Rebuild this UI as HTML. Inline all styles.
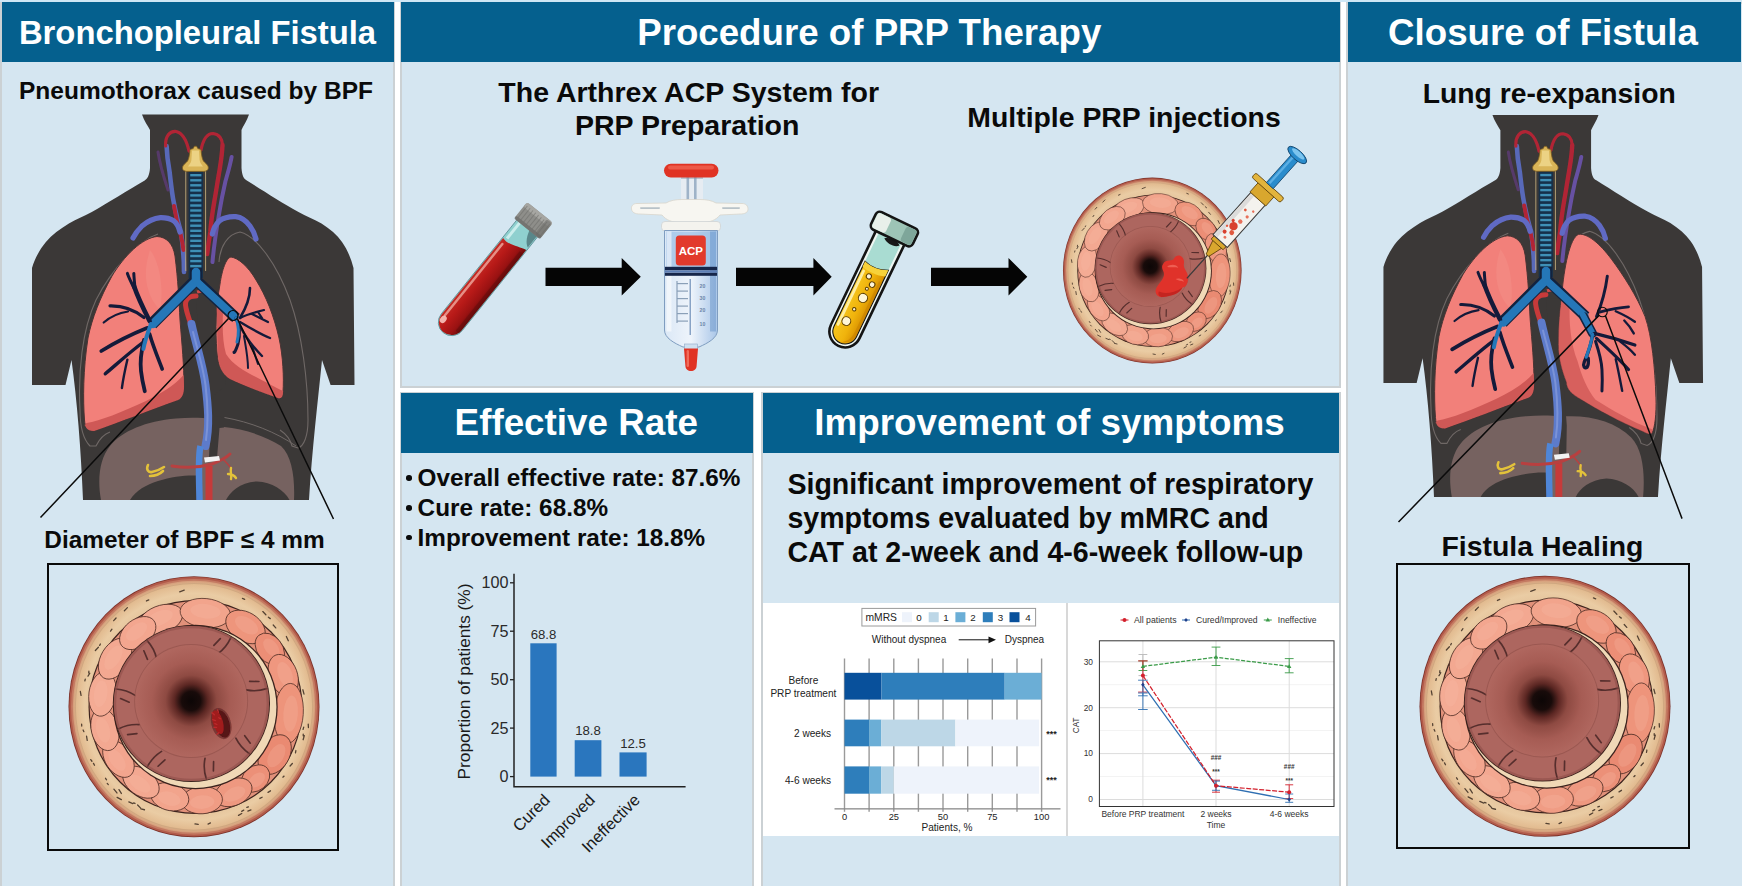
<!DOCTYPE html><html><head><meta charset="utf-8"><title>PRP therapy for bronchopleural fistula</title><style>
html,body{margin:0;padding:0;}
body{width:1742px;height:886px;background:#fff;position:relative;overflow:hidden;font-family:"Liberation Sans",sans-serif;}
.panel{position:absolute;background:#d5e6f1;box-sizing:border-box;border:2px solid #cbd1d4;}
.hdr{position:absolute;background:#05608e;color:#fff;font-weight:bold;text-align:center;white-space:nowrap;}
.t{position:absolute;font-weight:bold;color:#0a0a0a;white-space:nowrap;line-height:1;}
.c{text-align:center;}
svg{position:absolute;left:0;top:0;overflow:visible;}
</style></head><body>
<div style="position:absolute;left:0;top:0;width:1742px;height:2px;background:#cfe7f5;"></div>
<div class="panel" style="left:0px;top:2px;width:395px;height:886px;"></div>
<div class="panel" style="left:400px;top:2px;width:941px;height:386px;"></div>
<div class="panel" style="left:400px;top:392px;width:354px;height:496px;"></div>
<div class="panel" style="left:761px;top:392px;width:580px;height:496px;"></div>
<div class="panel" style="left:1346px;top:2px;width:398px;height:886px;"></div>
<div style="position:absolute;left:763px;top:603px;width:576px;height:232.5px;background:#fff;"></div>
<div style="position:absolute;left:1066px;top:603px;width:1.5px;height:232.5px;background:#d8d8d8;"></div>
<div class="hdr" style="left:2px;top:2px;width:392px;height:59.5px;"><span style="position:absolute;left:0;width:392px;top:14.7px;font-size:32.8px;line-height:1;transform:translateX(-0.5px)">Bronchopleural Fistula</span></div>
<div class="hdr" style="left:401px;top:2px;width:938.5px;height:59.5px;"><span style="position:absolute;left:0;width:938.5px;top:12.9px;font-size:36.7px;line-height:1;transform:translateX(-1.0px)">Procedure of PRP Therapy</span></div>
<div class="hdr" style="left:1347.5px;top:2px;width:393.2px;height:59.5px;"><span style="position:absolute;left:0;width:393.2px;top:13.2px;font-size:36.7px;line-height:1;transform:translateX(-1.1px)">Closure of Fistula</span></div>
<div class="hdr" style="left:401px;top:392.6px;width:351.6px;height:60.3px;"><span style="position:absolute;left:0;width:351.6px;top:12.4px;font-size:36.8px;line-height:1;transform:translateX(-0.5px)">Effective Rate</span></div>
<div class="hdr" style="left:762.7px;top:392.6px;width:576.8px;height:60.3px;"><span style="position:absolute;left:0;width:576.8px;top:12.5px;font-size:36.8px;line-height:1;transform:translateX(-1.6px)">Improvement of symptoms</span></div>
<div class="t c" style="left:-204.0px;width:800px;top:79.3px;font-size:24.5px;">Pneumothorax caused by BPF</div>
<div class="t c" style="left:-215.5px;width:800px;top:528.3px;font-size:24.4px;">Diameter of BPF ≤ 4 mm</div>
<div class="t c" style="left:288.7px;width:800px;top:77.5px;font-size:28.5px;">The Arthrex ACP System for</div>
<div class="t c" style="left:287.2px;width:800px;top:111.3px;font-size:28.5px;">PRP Preparation</div>
<div class="t c" style="left:724.0px;width:800px;top:103.3px;font-size:28.4px;">Multiple PRP injections</div>
<div class="t c" style="left:1149.2px;width:800px;top:79.0px;font-size:28.3px;">Lung re-expansion</div>
<div class="t c" style="left:1142.5px;width:800px;top:532.0px;font-size:28.4px;">Fistula Healing</div>
<div class="t" style="left:417.6px;top:466.2px;font-size:24.3px;">Overall effective rate: 87.6%</div>
<div style="position:absolute;left:406.2px;top:475.3px;width:5.6px;height:5.6px;border-radius:50%;background:#0a0a0a;"></div>
<div class="t" style="left:417.6px;top:495.9px;font-size:24.3px;">Cure rate: 68.8%</div>
<div style="position:absolute;left:406.2px;top:505.0px;width:5.6px;height:5.6px;border-radius:50%;background:#0a0a0a;"></div>
<div class="t" style="left:417.6px;top:525.6px;font-size:24.3px;">Improvement rate: 18.8%</div>
<div style="position:absolute;left:406.2px;top:534.7px;width:5.6px;height:5.6px;border-radius:50%;background:#0a0a0a;"></div>
<div class="t" style="left:787.4px;top:470.1px;font-size:28.6px;">Significant improvement of respiratory</div>
<div class="t" style="left:787.4px;top:504.2px;font-size:28.6px;">symptoms evaluated by mMRC and</div>
<div class="t" style="left:787.4px;top:538.3px;font-size:28.6px;">CAT at 2-week and 4-6-week follow-up</div>
<div style="position:absolute;left:46.5px;top:562.5px;width:292.5px;height:288.5px;box-sizing:border-box;border:2.2px solid #0a0a0a;"></div>
<div style="position:absolute;left:1395.5px;top:562.5px;width:294px;height:286px;box-sizing:border-box;border:2.2px solid #0a0a0a;"></div>
<svg width="1742" height="886" viewBox="0 0 1742 886">
<defs><filter id="fSoft" x="-20%" y="-20%" width="140%" height="140%"><feGaussianBlur stdDeviation="0.7"/></filter>
<radialGradient id="gBeige" cx="50%" cy="50%" r="50%"><stop offset="0.80" stop-color="#e3c199"/><stop offset="0.9" stop-color="#eaccA4"/><stop offset="0.97" stop-color="#e2bb90"/><stop offset="1" stop-color="#d39a78"/></radialGradient>
<radialGradient id="gLumen" cx="50%" cy="50%" r="50%"><stop offset="0" stop-color="#0c0606"/><stop offset="0.17" stop-color="#180b0a"/><stop offset="0.30" stop-color="#5c2723"/><stop offset="0.46" stop-color="#8e4a42"/><stop offset="0.70" stop-color="#a65c54"/><stop offset="1" stop-color="#b0675f"/></radialGradient>

<linearGradient id="gBlood" x1="0" x2="1" y1="0" y2="0"><stop offset="0" stop-color="#c42a24"/><stop offset=".35" stop-color="#b81a18"/><stop offset=".75" stop-color="#9a1212"/><stop offset="1" stop-color="#6e0c0c"/></linearGradient>
<linearGradient id="gBarrel" x1="0" x2="1" y1="0" y2="0"><stop offset="0" stop-color="#dbe8f6"/><stop offset=".5" stop-color="#eef4fb"/><stop offset="1" stop-color="#a9c6e8"/></linearGradient>
<linearGradient id="gYellow" x1="0" x2="1" y1="0" y2="0"><stop offset="0" stop-color="#f6c61e"/><stop offset=".55" stop-color="#f0b30c"/><stop offset="1" stop-color="#d78f00"/></linearGradient>
</defs>
<g id="torsoL"><path fill="#3b3837" d="M142,114.5 L249,114.5 C247,121 243,126 241.5,130 L241.5,168 C242,176 244,179 246.8,180.5 C262,190 282,203 298.5,212 C306,216 314,219.5 321.5,223.6 C330,229 337,235 342,242 C347,249 351,258 353.5,268 L354.5,385 L330.6,385 L322,360 C318,400 312,450 309,500 L83,500 C81,450 77,400 71.5,360 L65.5,385 L32,385 L32,268 C35,258 40,249 45.9,242 C52,235 60,229 68.9,223.6 C76,219.5 84,216 91.8,212 C108,203 128,190 144.7,180.5 C147,179 149.5,176 150,168 L150,130 C148,126 144,121 142,114.5 Z"/>
<path fill="none" stroke="#6f6866" stroke-width="1.1" d="M158,234 C140,240 112,268 96,300 C82,330 78,372 80,410 C80,428 84,440 90,446 L96,446 C100,438 104,434 110,432"/>
<path fill="none" stroke="#6f6866" stroke-width="1.1" d="M219,262 C220,246 228,234 240,232 C256,236 276,262 290,300 C302,334 308,380 308,420 C308,436 304,446 298,448 L292,446 C290,438 286,434 280,430"/>
<path fill="#766260" d="M101,500 C97,478 100,458 110,446 C122,431 146,421 176,418.5 C190,417.3 202,417.6 212,419 L224,427 C244,429 266,436 281,446 C292,456 295,478 294,500 Z"/>
<path fill="#3b3837" d="M130,500 C136,490 146,485 158,481 C172,476.5 186,475 197,475.5 L197,500 Z"/>
<path fill="#3b3837" d="M226,500 C230,492 240,482.5 257,481.5 C272,482 284,490 289.5,500 Z"/>
<path fill="#3b3837" d="M196,300 L224,300 L226,384 C223,390 214,392 213.5,398 L213.5,416 L224,417.5 L224,427.5 L219.5,428 L217,458 L209,458 L210,430 C209,410 200,360 196,300 Z"/>
<path fill="none" stroke="#6f6866" stroke-width="1" d="M224.5,417.5 C250,422 276,432 296,446"/>
<path fill="#f2807a" stroke="#4a3434" stroke-width="1" d="M157,236.5 C166,237 173,243 175,256 C178,280 179,300 180,320 C182,345 184,365 184,386 C184,394 182,398 178,400 C150,410 120,422 94,431 C88,431 85,428 84.5,420 C83,400 83,370 88,338 C92,318 100,298 112,276 C124,256 142,238 157,236.5 Z"/>
<path fill="#cf5856" d="M84.8,426 C85,425 85.6,424 86.5,423 C100,421 122,412 146,401 C160,394 174,386 183.6,375 L184,386 C184,394 182,398 178,400 C150,410 120,422 94,431 C88,431 85.5,428 84.8,424 Z"/>
<path fill="#f6a29b" opacity=".22" d="M150,250 C160,262 164,290 160,310 C150,300 140,280 150,250 Z"/>
<path fill="#f2807a" stroke="#4a3434" stroke-width="1" d="M231,257 C238,258 248,266 256,280 C266,296 274,316 279,338 C283,356 284,378 283,392 C283,397 281,399 278,398 C262,392 244,386 230,379 C222,374 218,366 217,352 C215,330 216,306 220,284 C222,270 226,258 231,257 Z"/>
<path fill="#cf5856" d="M216.6,300 C220,296 222,296 224,300 C222,320 222,340 226,354 C232,364 244,371 256,377 C266,382 276,388 283.2,391 L283,392 C283,397 281,399 278,398 C262,392 244,386 230,379 C222,374 218,366 217.5,350 Z"/>
<path fill="none" stroke="#c83a3a" stroke-width="5" stroke-linecap="round" d="M196,296 C188,296 184,300 186,308 C188,318 192,326 194,334"/>
<path fill="none" stroke="#5d7bcb" stroke-width="8" stroke-linecap="round" d="M191.5,324 C196,345 203,365 205.5,385 C208,405 210,426 205.5,446"/><path fill="none" stroke="#8fa4e0" stroke-width="2" stroke-linecap="round" opacity=".6" d="M193,332 C197,348 203,366 205.5,385 C207.5,402 209,420 206,440"/>
<path fill="none" stroke="#d04848" stroke-width="3" d="M197,292 C204,290 210,292 214,296"/>
<path fill="none" stroke="#4f86d8" stroke-width="6.5" d="M200.5,446 C198,456 199,470 199.5,500"/>
<path fill="none" stroke="#c63a3a" stroke-width="7" d="M209,466 L209,500"/>
<path fill="none" stroke="#b84040" stroke-width="3" stroke-linecap="round" d="M172,466 C184,468 198,468 212,464 C220,461 226,458 230,454"/>
<path fill="none" stroke="#b84040" stroke-width="1.6" d="M222,458 C226,462 230,466 232,470"/>
<path fill="#f2f2f2" d="M204,457.5 L219,456 L220,460.5 L205,462.5 Z"/>
<path fill="none" stroke="#e3c23a" stroke-width="2.6" stroke-linecap="round" d="M148,465 C146,469 148,473 152,472 C157,471 161,469 164,467 M150,476 C155,476 160,474 163,471"/>
<path fill="none" stroke="#e3c23a" stroke-width="2.4" stroke-linecap="round" d="M231,468 C230,472 232,476 231,479 M228,474 C231,474 234,475 236,478"/>
<g filter="url(#fSoft)" opacity=".88">
<path fill="none" stroke="#5d6fcb" stroke-width="4.6" stroke-linecap="round" d="M166.6,146 C167,158 168.5,166 169.6,172 C171,184 172,194 173.7,202 C176,214 178.5,224 181,232 C183,246 184,260 184,272"/>
<path fill="none" stroke="#6a3a8a" stroke-width="3" stroke-linecap="round" opacity=".7" d="M158,152 C160,166 164,178 168,190"/>
<path fill="none" stroke="#c22434" stroke-width="3.2" stroke-linecap="round" d="M165.6,146 C165,136 170,131 176,131.5 C183,133 187,142 189,151"/>
<path fill="none" stroke="#c22434" stroke-width="4" stroke-linecap="round" d="M174,206 C175.5,216 178,226 180.5,234 C182,240 183,246 183.5,250"/>
<path fill="none" stroke="#c22434" stroke-width="3.2" stroke-linecap="round" d="M201,150 C203,140 207,133.5 213,133.5 C219,134 222.5,139 222.5,145"/>
<path fill="none" stroke="#c22434" stroke-width="4.4" stroke-linecap="round" d="M222.5,145 C222,156 220.5,164 219.4,171 C217.5,182 216,192 214.3,201.5 C212.5,212 211,222 210.3,232 C209,240 208,247 207.2,254"/>
<path fill="none" stroke="#7458c0" stroke-width="4" stroke-linecap="round" opacity=".9" d="M231.6,157 C230,166 227.5,174 225.5,181 C223,192 221,202 219.4,212 C217,226 214,244 212.5,262"/>
<path fill="none" stroke="#6672d8" stroke-width="5.2" stroke-linecap="round" d="M133,238 C136,232 139,229 142,226 C148,221 154,218.4 160.5,217.7 C166,217.6 170,218.6 173.7,220.8 C177,223.5 179,228 180,232"/>
<path fill="none" stroke="#6672d8" stroke-width="5.2" stroke-linecap="round" d="M212.3,234 C213.5,228 216,224 219.4,220.8 C224,217.6 230,216.4 235.7,216.7 C241,217.4 246,220.6 250,226 C253,230 255,235 256,239"/>
</g>
<rect x="188.6" y="170" width="14.4" height="108" fill="#16304a"/>
<rect x="190.2" y="174.0" width="11.2" height="2.4" fill="#3f90b6"/><rect x="190.2" y="179.1" width="11.2" height="2.4" fill="#3f90b6"/><rect x="190.2" y="184.1" width="11.2" height="2.4" fill="#3f90b6"/><rect x="190.2" y="189.2" width="11.2" height="2.4" fill="#3f90b6"/><rect x="190.2" y="194.2" width="11.2" height="2.4" fill="#3f90b6"/><rect x="190.2" y="199.2" width="11.2" height="2.4" fill="#3f90b6"/><rect x="190.2" y="204.3" width="11.2" height="2.4" fill="#3f90b6"/><rect x="190.2" y="209.3" width="11.2" height="2.4" fill="#3f90b6"/><rect x="190.2" y="214.4" width="11.2" height="2.4" fill="#3f90b6"/><rect x="190.2" y="219.4" width="11.2" height="2.4" fill="#3f90b6"/><rect x="190.2" y="224.5" width="11.2" height="2.4" fill="#3f90b6"/><rect x="190.2" y="229.6" width="11.2" height="2.4" fill="#3f90b6"/><rect x="190.2" y="234.6" width="11.2" height="2.4" fill="#3f90b6"/><rect x="190.2" y="239.6" width="11.2" height="2.4" fill="#3f90b6"/><rect x="190.2" y="244.7" width="11.2" height="2.4" fill="#3f90b6"/><rect x="190.2" y="249.8" width="11.2" height="2.4" fill="#3f90b6"/><rect x="190.2" y="254.8" width="11.2" height="2.4" fill="#3f90b6"/><rect x="190.2" y="259.9" width="11.2" height="2.4" fill="#3f90b6"/><rect x="190.2" y="264.9" width="11.2" height="2.4" fill="#3f90b6"/><rect x="190.2" y="269.9" width="11.2" height="2.4" fill="#3f90b6"/>
<rect x="185.2" y="171" width="1.1" height="100" fill="#cdb680" opacity=".75"/><rect x="205" y="171" width="1.1" height="100" fill="#cdb680" opacity=".75"/>
<path fill="none" stroke="#13233f" stroke-width="12" stroke-linejoin="round" d="M196,268 L196,280 L152,324"/>
<path fill="none" stroke="#13233f" stroke-width="11" stroke-linejoin="round" d="M196,268 L196,280 L236,318"/>
<path fill="none" stroke="#2577b8" stroke-width="8.5" stroke-linejoin="round" stroke-linecap="round" d="M196,272 L196,281 L153,324"/>
<path fill="none" stroke="#2577b8" stroke-width="7.5" stroke-linejoin="round" stroke-linecap="round" d="M196,272 L196,281 L235,317"/>
<g fill="none" stroke="#141a3a" stroke-linecap="round"><path stroke-width="4.6" d="M149.6,321 C144,310 138,298 134,286"/><path stroke-width="3" d="M134,288 C131,282 129,278 127.4,273.4 M135,288 C134.4,282 134,278 133.8,273.4"/><path stroke-width="3.2" d="M144,317.5 C136,311 124,305.5 110,305.8"/><path stroke-width="2.2" d="M128,311.5 C118,313 110,317 103.7,322.5"/><path stroke-width="3.8" d="M147,328 C132,334 116,342 101.3,351"/><path stroke-width="3.4" d="M143.5,342 C130,352 118,363 105.3,373.8"/><path stroke-width="2.4" d="M127.4,359.6 C125,370 123,380 121.9,388"/><path stroke-width="3.8" d="M144,340 C141,352 140,362 141,371 C142,380 143.5,386 144.8,391.2"/><path stroke-width="3.6" d="M149.6,334 C153,346 158,358 162.2,369"/></g>
<path fill="none" stroke="#2577b8" stroke-width="4" stroke-linecap="round" d="M151,324 C148,332 145,340 143.4,349"/>
<g fill="none" stroke="#141a3a" stroke-linecap="round"><path stroke-width="3" d="M236,318 C240,326 240,336 238,344 C236,350 234,354 234,352"/><path stroke-width="2.6" d="M240,318 C246,308 250,298 250,288"/><path stroke-width="2.2" d="M240,318 C248,314 256,312 264,310 M258,312 L262,318 M252,314 L268,322"/><path stroke-width="2.4" d="M240,322 C250,328 260,334 270,338"/><path stroke-width="2.4" d="M240,326 C246,338 254,348 262,356"/><path stroke-width="2" d="M244,336 C246,348 248,358 248,368 M252,346 L258,364"/></g>
<path fill="none" stroke="#2577b8" stroke-width="3" stroke-linecap="round" d="M236,318 C239,326 239,334 237,342"/>
<ellipse cx="233" cy="315.5" rx="5" ry="5" fill="none" stroke="#0b0b0b" stroke-width="1.2"/>
<path fill="none" stroke="#0b0b0b" stroke-width="1.5" d="M228.5,318.5 L40.5,517.5 M237.5,319 L333.5,519"/>
<path fill="#d9b457" stroke="#7a5a1e" stroke-width=".8" d="M193.2,148.5 L194.4,146.2 L196.6,146.2 L197.8,148.5 L201,149.5 C201.4,154 201.8,158 203.4,161 C205.4,163.4 208.6,165 208.4,168 C208.2,170.2 206.4,171.2 204,171.4 L186.6,171.4 C184.2,171.2 182.6,170.2 182.4,168 C182.4,165 185.6,163.4 187.6,161 C189.2,158 189.6,154 190,149.5 Z"/>
<path fill="#efd78c" d="M192,150.5 L199,150.5 L199.6,160 C199.8,163 202,165 203,166.4 L188,166.4 C189,165 191.2,163 191.4,160 Z" opacity=".85"/></g>
<g id="torsoR" transform="translate(1351.74,1.43) scale(0.991)"><path fill="#3b3837" d="M142,114.5 L249,114.5 C247,121 243,126 241.5,130 L241.5,168 C242,176 244,179 246.8,180.5 C262,190 282,203 298.5,212 C306,216 314,219.5 321.5,223.6 C330,229 337,235 342,242 C347,249 351,258 353.5,268 L354.5,385 L330.6,385 L322,360 C318,400 312,450 309,500 L83,500 C81,450 77,400 71.5,360 L65.5,385 L32,385 L32,268 C35,258 40,249 45.9,242 C52,235 60,229 68.9,223.6 C76,219.5 84,216 91.8,212 C108,203 128,190 144.7,180.5 C147,179 149.5,176 150,168 L150,130 C148,126 144,121 142,114.5 Z"/>
<path fill="none" stroke="#6f6866" stroke-width="1.1" d="M158,234 C140,240 112,268 96,300 C82,330 78,372 80,410 C80,428 84,440 90,446 L96,446 C100,438 104,434 110,432"/>
<path fill="none" stroke="#6f6866" stroke-width="1.1" d="M219,262 C220,246 228,234 240,232 C256,236 276,262 290,300 C302,334 308,380 308,420 C308,436 304,446 298,448 L292,446 C290,438 286,434 280,430"/>
<path fill="#766260" d="M101,500 C97,478 100,458 110,446 C122,431 146,421 176,418.5 C190,417.3 202,417.6 212,419 C240,417 266,424 282,440 C294,452 296,478 294,500 Z"/>
<path fill="#3b3837" d="M130,500 C136,490 146,485 158,481 C172,476.5 186,475 197,475.5 L197,500 Z"/>
<path fill="#3b3837" d="M226,500 C230,492 240,482.5 257,481.5 C272,482 284,490 289.5,500 Z"/>
<path fill="#3b3837" d="M196,300 L216,300 L214,384 C214,400 216,410 217,428 L216.5,458 L209,458 L210,430 C209,410 200,360 196,300 Z"/>
<path fill="#f2807a" stroke="#4a3434" stroke-width="1" d="M157,236.5 C166,237 173,243 175,256 C178,280 179,300 180,320 C182,345 184,365 184,386 C184,394 182,398 178,400 C150,410 120,422 94,431 C88,431 85,428 84.5,420 C83,400 83,370 88,338 C92,318 100,298 112,276 C124,256 142,238 157,236.5 Z"/>
<path fill="#cf5856" d="M84.8,426 C85,425 85.6,424 86.5,423 C100,421 122,412 146,401 C160,394 174,386 183.6,375 L184,386 C184,394 182,398 178,400 C150,410 120,422 94,431 C88,431 85.5,428 84.8,424 Z"/>
<path fill="#f6a29b" opacity=".22" d="M150,250 C160,262 164,290 160,310 C150,300 140,280 150,250 Z"/>
<path fill="#f2807a" stroke="#4a3434" stroke-width="1" d="M229,235 C238,234 250,244 262,260 C274,276 288,298 296,318 C303,338 306,370 307,400 C307.5,416 306,430 303,435.5 C301,437.5 298,436 294,434 C270,424 248,412 232,402 C222,396 217,392 216.6,384 C212,372 208.6,360 208.6,346 C208.6,326 210,310 212,296 C214,270 220,238 229,235 Z"/>
<path fill="#cf5856" opacity=".8" d="M212,300 C216,296 219,298 220,304 C219,324 221,346 227.9,363 C232,378 238,392 246,402 C262,412 282,424 303.6,432 L303,435.5 C301,437.5 298,436 294,434 C270,424 248,412 232,402 C222,396 217,392 216.6,384 C212,372 208.6,360 208.6,346 C208.6,328 210,312 212,300 Z"/>
<path fill="none" stroke="#c83a3a" stroke-width="5" stroke-linecap="round" d="M196,296 C188,296 184,300 186,308 C188,318 192,326 194,334"/>
<path fill="none" stroke="#5d7bcb" stroke-width="8" stroke-linecap="round" d="M191.5,324 C196,345 203,365 205.5,385 C208,405 210,426 205.5,446"/><path fill="none" stroke="#8fa4e0" stroke-width="2" stroke-linecap="round" opacity=".6" d="M193,332 C197,348 203,366 205.5,385 C207.5,402 209,420 206,440"/>
<path fill="none" stroke="#d04848" stroke-width="3" d="M197,292 C204,290 210,292 214,296"/>
<path fill="none" stroke="#4f86d8" stroke-width="6.5" d="M200.5,446 C198,456 199,470 199.5,500"/>
<path fill="none" stroke="#c63a3a" stroke-width="7" d="M209,466 L209,500"/>
<path fill="none" stroke="#b84040" stroke-width="3" stroke-linecap="round" d="M172,466 C184,468 198,468 212,464 C220,461 226,458 230,454"/>
<path fill="none" stroke="#b84040" stroke-width="1.6" d="M222,458 C226,462 230,466 232,470"/>
<path fill="#f2f2f2" d="M204,457.5 L219,456 L220,460.5 L205,462.5 Z"/>
<path fill="none" stroke="#e3c23a" stroke-width="2.6" stroke-linecap="round" d="M148,465 C146,469 148,473 152,472 C157,471 161,469 164,467 M150,476 C155,476 160,474 163,471"/>
<path fill="none" stroke="#e3c23a" stroke-width="2.4" stroke-linecap="round" d="M231,468 C230,472 232,476 231,479 M228,474 C231,474 234,475 236,478"/>
<g filter="url(#fSoft)" opacity=".88">
<path fill="none" stroke="#5d6fcb" stroke-width="4.6" stroke-linecap="round" d="M166.6,146 C167,158 168.5,166 169.6,172 C171,184 172,194 173.7,202 C176,214 178.5,224 181,232 C183,246 184,260 184,272"/>
<path fill="none" stroke="#6a3a8a" stroke-width="3" stroke-linecap="round" opacity=".7" d="M158,152 C160,166 164,178 168,190"/>
<path fill="none" stroke="#c22434" stroke-width="3.2" stroke-linecap="round" d="M165.6,146 C165,136 170,131 176,131.5 C183,133 187,142 189,151"/>
<path fill="none" stroke="#c22434" stroke-width="4" stroke-linecap="round" d="M174,206 C175.5,216 178,226 180.5,234 C182,240 183,246 183.5,250"/>
<path fill="none" stroke="#c22434" stroke-width="3.2" stroke-linecap="round" d="M201,150 C203,140 207,133.5 213,133.5 C219,134 222.5,139 222.5,145"/>
<path fill="none" stroke="#c22434" stroke-width="4.4" stroke-linecap="round" d="M222.5,145 C222,156 220.5,164 219.4,171 C217.5,182 216,192 214.3,201.5 C212.5,212 211,222 210.3,232 C209,240 208,247 207.2,254"/>
<path fill="none" stroke="#7458c0" stroke-width="4" stroke-linecap="round" opacity=".9" d="M231.6,157 C230,166 227.5,174 225.5,181 C223,192 221,202 219.4,212 C217,226 214,244 212.5,262"/>
<path fill="none" stroke="#6672d8" stroke-width="5.2" stroke-linecap="round" d="M133,238 C136,232 139,229 142,226 C148,221 154,218.4 160.5,217.7 C166,217.6 170,218.6 173.7,220.8 C177,223.5 179,228 180,232"/>
<path fill="none" stroke="#6672d8" stroke-width="5.2" stroke-linecap="round" d="M212.3,234 C213.5,228 216,224 219.4,220.8 C224,217.6 230,216.4 235.7,216.7 C241,217.4 246,220.6 250,226 C253,230 255,235 256,239"/>
</g>
<rect x="188.6" y="170" width="14.4" height="108" fill="#16304a"/>
<rect x="190.2" y="174.0" width="11.2" height="2.4" fill="#3f90b6"/><rect x="190.2" y="179.1" width="11.2" height="2.4" fill="#3f90b6"/><rect x="190.2" y="184.1" width="11.2" height="2.4" fill="#3f90b6"/><rect x="190.2" y="189.2" width="11.2" height="2.4" fill="#3f90b6"/><rect x="190.2" y="194.2" width="11.2" height="2.4" fill="#3f90b6"/><rect x="190.2" y="199.2" width="11.2" height="2.4" fill="#3f90b6"/><rect x="190.2" y="204.3" width="11.2" height="2.4" fill="#3f90b6"/><rect x="190.2" y="209.3" width="11.2" height="2.4" fill="#3f90b6"/><rect x="190.2" y="214.4" width="11.2" height="2.4" fill="#3f90b6"/><rect x="190.2" y="219.4" width="11.2" height="2.4" fill="#3f90b6"/><rect x="190.2" y="224.5" width="11.2" height="2.4" fill="#3f90b6"/><rect x="190.2" y="229.6" width="11.2" height="2.4" fill="#3f90b6"/><rect x="190.2" y="234.6" width="11.2" height="2.4" fill="#3f90b6"/><rect x="190.2" y="239.6" width="11.2" height="2.4" fill="#3f90b6"/><rect x="190.2" y="244.7" width="11.2" height="2.4" fill="#3f90b6"/><rect x="190.2" y="249.8" width="11.2" height="2.4" fill="#3f90b6"/><rect x="190.2" y="254.8" width="11.2" height="2.4" fill="#3f90b6"/><rect x="190.2" y="259.9" width="11.2" height="2.4" fill="#3f90b6"/><rect x="190.2" y="264.9" width="11.2" height="2.4" fill="#3f90b6"/><rect x="190.2" y="269.9" width="11.2" height="2.4" fill="#3f90b6"/>
<rect x="185.2" y="171" width="1.1" height="100" fill="#cdb680" opacity=".75"/><rect x="205" y="171" width="1.1" height="100" fill="#cdb680" opacity=".75"/>
<path fill="none" stroke="#13233f" stroke-width="12" stroke-linejoin="round" d="M196,268 L196,280 L152,324"/>
<path fill="none" stroke="#13233f" stroke-width="11" stroke-linejoin="round" d="M196,268 L196,280 L236,318"/>
<path fill="none" stroke="#2577b8" stroke-width="8.5" stroke-linejoin="round" stroke-linecap="round" d="M196,272 L196,281 L153,324"/>
<path fill="none" stroke="#2577b8" stroke-width="7.5" stroke-linejoin="round" stroke-linecap="round" d="M196,272 L196,281 L235,317"/>
<g fill="none" stroke="#141a3a" stroke-linecap="round"><path stroke-width="4.6" d="M149.6,321 C144,310 138,298 134,286"/><path stroke-width="3" d="M134,288 C131,282 129,278 127.4,273.4 M135,288 C134.4,282 134,278 133.8,273.4"/><path stroke-width="3.2" d="M144,317.5 C136,311 124,305.5 110,305.8"/><path stroke-width="2.2" d="M128,311.5 C118,313 110,317 103.7,322.5"/><path stroke-width="3.8" d="M147,328 C132,334 116,342 101.3,351"/><path stroke-width="3.4" d="M143.5,342 C130,352 118,363 105.3,373.8"/><path stroke-width="2.4" d="M127.4,359.6 C125,370 123,380 121.9,388"/><path stroke-width="3.8" d="M144,340 C141,352 140,362 141,371 C142,380 143.5,386 144.8,391.2"/><path stroke-width="3.6" d="M149.6,334 C153,346 158,358 162.2,369"/></g>
<path fill="none" stroke="#2577b8" stroke-width="4" stroke-linecap="round" d="M151,324 C148,332 145,340 143.4,349"/>
<path fill="none" stroke="#13233f" stroke-width="9" stroke-linecap="round" d="M234,318 L243,335"/>
<path fill="none" stroke="#2577b8" stroke-width="6" stroke-linecap="round" d="M233,316 L243,335"/>
<g fill="none" stroke="#141a3a" stroke-linecap="round"><path stroke-width="3.4" d="M243,336 C242,346 238,356 234.6,364 C233,368 235,371 237.6,369 C239,367 239,364 238.6,360"/><path stroke-width="3" d="M247,318 C252,306 256,292 257.9,277.2"/><path stroke-width="2.8" d="M250,313.6 C260,311 270,309 279.3,308.3"/><path stroke-width="2.4" d="M266.4,312.6 C274,316 280,319 285.7,323.3 M275,322 C279,326 282,330 284.6,335"/><path stroke-width="3.2" d="M245,335 C258,338 272,342 285.7,346.8"/><path stroke-width="2.4" d="M270.7,343 C276,347 281,351 285.7,356.5"/><path stroke-width="3.2" d="M247,340 C258,350 270,361 279.3,371.5"/><path stroke-width="2.4" d="M266.4,361 C269,372 271,383 272.9,393"/><path stroke-width="3" d="M246,343 C249,352 252,362 252.5,371.5 C253,380 252.8,387 252.5,393"/></g>
<path fill="none" stroke="#2577b8" stroke-width="3.2" stroke-linecap="round" d="M243,336 C242,344 239,352 236.6,359"/>
<ellipse cx="253" cy="313.4" rx="4.8" ry="4.8" fill="none" stroke="#0b0b0b" stroke-width="1.2"/>
<path fill="none" stroke="#0b0b0b" stroke-width="1.5" d="M249.5,316.8 L47.2,525.3 M256,317.2 L333.3,521.9"/>
<path fill="#d9b457" stroke="#7a5a1e" stroke-width=".8" d="M193.2,148.5 L194.4,146.2 L196.6,146.2 L197.8,148.5 L201,149.5 C201.4,154 201.8,158 203.4,161 C205.4,163.4 208.6,165 208.4,168 C208.2,170.2 206.4,171.2 204,171.4 L186.6,171.4 C184.2,171.2 182.6,170.2 182.4,168 C182.4,165 185.6,163.4 187.6,161 C189.2,158 189.6,154 190,149.5 Z"/>
<path fill="#efd78c" d="M192,150.5 L199,150.5 L199.6,160 C199.8,163 202,165 203,166.4 L188,166.4 C189,165 191.2,163 191.4,160 Z" opacity=".85"/></g>
<g transform="translate(194,706.8) scale(0.9805,1.0195)">
<circle r="128" fill="#7a3028"/>
<circle r="127.2" fill="#b25a4a"/>
<circle r="125.4" fill="#c47a62"/>
<circle r="123.6" fill="url(#gBeige)"/>
<circle r="121" fill="none" stroke="#c9a27c" stroke-width="1" opacity=".7"/>
<path d="M-50.5,101.0 l-3.7,-0.8 M-111.3,-25.5 l0.4,-1.7 M111.4,26.8 l0.0,1.7 M-104.1,53.4 l-1.2,-1.6 M-81.9,-84.5 l2.4,-2.6 M111.0,-16.7 l1.2,4.3 M69.5,88.7 l-2.3,1.2 M48.7,104.7 l-3.3,1.8 M-107.4,-33.2 l0.2,-1.7 M-48.5,-103.8 l2.4,-1.0 M-108.9,33.0 l-0.7,-4.2 M4.3,115.4 l-3.3,-0.6 M-14.6,-112.8 l4.6,-1.7 M-101.5,57.3 l-1.0,-1.8 M112.5,28.3 l-1.2,4.0 M80.8,-80.3 l2.6,2.9 M-100.6,-55.2 l3.1,-3.2 M-114.5,18.8 l-0.1,-1.7 M-71.0,-94.2 l3.1,-3.1 M-87.4,76.3 l-1.1,-1.2 M55.5,98.1 l-1.6,0.6 M78.0,82.4 l-2.5,1.5 M100.3,55.6 l-2.3,2.5 M49.4,-106.3 l2.3,0.9 M-74.1,91.0 l-4.3,-2.2 M50.7,101.4 l-2.1,1.1 M-96.2,-60.3 l0.7,-1.3 M-78.6,84.5 l-3.1,-3.7 M-115.2,-11.2 l-0.7,-3.8 M94.2,-68.9 l2.0,4.1 M-89.2,71.6 l-1.0,-1.5 M103.9,42.9 l-0.4,2.2 M-60.2,94.8 l-1.4,-0.5 M91.8,68.0 l-1.2,1.0 M-85.1,-74.2 l1.4,-1.9 M-74.1,85.0 l-2.4,-3.8 M-112.3,24.4 l-0.8,-1.6 M-62.4,94.9 l-4.1,-1.6 M116.5,17.0 l0.2,3.3 M-108.1,-30.1 l1.8,-2.8 M75.9,-87.9 l1.9,1.4 M58.1,101.1 l-3.2,1.2 M-54.4,99.4 l-3.1,-3.1 M70.2,-93.4 l3.1,3.1 M16.8,113.9 l-2.5,1.1 M111.9,19.9 l-0.7,2.3" stroke="#3a2a20" stroke-width="1.3" stroke-linecap="round" fill="none" opacity=".85"/>
</g><g transform="translate(195.5,707.0) scale(0.9727)">
<circle r="110" fill="#3b221d"/>
<circle r="108.8" fill="#e2917a"/>
<ellipse cx="-36.1" cy="-89.5" rx="14.5" ry="24" transform="rotate(-112 -36.1 -89.5)" fill="#f3a891" stroke="#4a2a22" stroke-width=".9" stroke-opacity=".85"/>
<ellipse cx="-36.9" cy="-91.3" rx="7.2" ry="14.4" transform="rotate(-112 -36.9 -91.3)" fill="#f8bca6" opacity=".25"/>
<ellipse cx="10.1" cy="-96.5" rx="15" ry="26" transform="rotate(-84 10.1 -96.5)" fill="#f2a48c" stroke="#4a2a22" stroke-width=".9" stroke-opacity=".85"/>
<ellipse cx="10.3" cy="-98.5" rx="7.5" ry="15.6" transform="rotate(-84 10.3 -98.5)" fill="#f8bca6" opacity=".25"/>
<ellipse cx="51.4" cy="-82.3" rx="15" ry="22" transform="rotate(-58 51.4 -82.3)" fill="#ee957c" stroke="#4a2a22" stroke-width=".9" stroke-opacity=".85"/>
<ellipse cx="52.5" cy="-84.0" rx="7.5" ry="13.2" transform="rotate(-58 52.5 -84.0)" fill="#f8bca6" opacity=".25"/>
<ellipse cx="76.4" cy="-59.7" rx="13" ry="18" transform="rotate(-38 76.4 -59.7)" fill="#ec8e76" stroke="#4a2a22" stroke-width=".9" stroke-opacity=".85"/>
<ellipse cx="78.0" cy="-61.0" rx="6.5" ry="10.8" transform="rotate(-38 78.0 -61.0)" fill="#f8bca6" opacity=".25"/>
<ellipse cx="90.2" cy="-32.8" rx="14.5" ry="22" transform="rotate(-20 90.2 -32.8)" fill="#ef977f" stroke="#4a2a22" stroke-width=".9" stroke-opacity=".85"/>
<ellipse cx="92.1" cy="-33.5" rx="7.2" ry="13.2" transform="rotate(-20 92.1 -33.5)" fill="#f8bca6" opacity=".25"/>
<ellipse cx="95.8" cy="6.7" rx="15" ry="31" transform="rotate(4 95.8 6.7)" fill="#ee947b" stroke="#4a2a22" stroke-width=".9" stroke-opacity=".85"/>
<ellipse cx="97.8" cy="6.8" rx="7.5" ry="18.6" transform="rotate(4 97.8 6.8)" fill="#f8bca6" opacity=".25"/>
<ellipse cx="81.4" cy="48.9" rx="15" ry="22" transform="rotate(31 81.4 48.9)" fill="#ea8a72" stroke="#4a2a22" stroke-width=".9" stroke-opacity=".85"/>
<ellipse cx="83.1" cy="50.0" rx="7.5" ry="13.2" transform="rotate(31 83.1 50.0)" fill="#f8bca6" opacity=".25"/>
<ellipse cx="61.7" cy="73.5" rx="12.5" ry="16" transform="rotate(50 61.7 73.5)" fill="#ec9078" stroke="#4a2a22" stroke-width=".9" stroke-opacity=".85"/>
<ellipse cx="63.0" cy="75.1" rx="6.2" ry="9.6" transform="rotate(50 63.0 75.1)" fill="#f8bca6" opacity=".25"/>
<ellipse cx="39.0" cy="87.7" rx="13.5" ry="20" transform="rotate(66 39.0 87.7)" fill="#ee9880" stroke="#4a2a22" stroke-width=".9" stroke-opacity=".85"/>
<ellipse cx="39.9" cy="89.5" rx="6.8" ry="12.0" transform="rotate(66 39.9 89.5)" fill="#f8bca6" opacity=".25"/>
<ellipse cx="6.7" cy="95.8" rx="14" ry="21" transform="rotate(86 6.7 95.8)" fill="#f09c84" stroke="#4a2a22" stroke-width=".9" stroke-opacity=".85"/>
<ellipse cx="6.8" cy="97.8" rx="7.0" ry="12.6" transform="rotate(86 6.8 97.8)" fill="#f8bca6" opacity=".25"/>
<ellipse cx="-26.5" cy="92.3" rx="14" ry="20" transform="rotate(106 -26.5 92.3)" fill="#f2a48c" stroke="#4a2a22" stroke-width=".9" stroke-opacity=".85"/>
<ellipse cx="-27.0" cy="94.2" rx="7.0" ry="12.0" transform="rotate(106 -27.0 94.2)" fill="#f8bca6" opacity=".25"/>
<ellipse cx="-56.1" cy="77.3" rx="13.5" ry="21" transform="rotate(126 -56.1 77.3)" fill="#f3a891" stroke="#4a2a22" stroke-width=".9" stroke-opacity=".85"/>
<ellipse cx="-57.3" cy="78.9" rx="6.8" ry="12.6" transform="rotate(126 -57.3 78.9)" fill="#f8bca6" opacity=".25"/>
<ellipse cx="-79.2" cy="53.4" rx="13.5" ry="21" transform="rotate(146 -79.2 53.4)" fill="#f3a58e" stroke="#4a2a22" stroke-width=".9" stroke-opacity=".85"/>
<ellipse cx="-80.8" cy="54.5" rx="6.8" ry="12.6" transform="rotate(146 -80.8 54.5)" fill="#f8bca6" opacity=".25"/>
<ellipse cx="-93.1" cy="23.2" rx="14" ry="22" transform="rotate(166 -93.1 23.2)" fill="#f3a891" stroke="#4a2a22" stroke-width=".9" stroke-opacity=".85"/>
<ellipse cx="-95.1" cy="23.7" rx="7.0" ry="13.2" transform="rotate(166 -95.1 23.7)" fill="#f8bca6" opacity=".25"/>
<ellipse cx="-95.6" cy="-13.4" rx="14" ry="23" transform="rotate(188 -95.6 -13.4)" fill="#f4ab94" stroke="#4a2a22" stroke-width=".9" stroke-opacity=".85"/>
<ellipse cx="-97.5" cy="-13.7" rx="7.0" ry="13.8" transform="rotate(188 -97.5 -13.7)" fill="#f8bca6" opacity=".25"/>
<ellipse cx="-82.7" cy="-49.7" rx="14.5" ry="23" transform="rotate(211 -82.7 -49.7)" fill="#f3a891" stroke="#4a2a22" stroke-width=".9" stroke-opacity=".85"/>
<ellipse cx="-84.4" cy="-50.7" rx="7.2" ry="13.8" transform="rotate(211 -84.4 -50.7)" fill="#f8bca6" opacity=".25"/>
<ellipse cx="-59.4" cy="-76.0" rx="14" ry="21" transform="rotate(232 -59.4 -76.0)" fill="#f3a68f" stroke="#4a2a22" stroke-width=".9" stroke-opacity=".85"/>
<ellipse cx="-60.6" cy="-77.6" rx="7.0" ry="12.6" transform="rotate(232 -60.6 -77.6)" fill="#f8bca6" opacity=".25"/>
<circle r="84.5" fill="#3b221d"/>
<circle r="83.2" fill="#f0d8b6"/>
<circle cx="-4.2" cy="-3.6" r="80.8" fill="#3b221d"/>
<circle cx="-4.2" cy="-3.6" r="79.8" fill="#ad665f"/>
<path d="M-39.9,-49.3 Q-42.2,-60.0 -49.7,-68.2 M-49.4,-49.0 L-53.1,-57.8 M-61.6,-11.7 Q-70.7,-17.8 -81.8,-18.5 M-68.2,-4.9 L-77.0,-8.7 M-58.0,18.1 Q-68.9,17.4 -78.8,22.3 M-60.2,27.3 L-69.8,28.4 M-34.9,45.6 Q-44.2,51.4 -49.4,61.2 M-31.4,54.3 L-38.5,60.9 M9.8,52.7 Q7.6,63.4 11.1,73.9 M18.6,56.2 L18.4,65.8 M41.5,32.1 Q46.3,41.9 55.5,48.1 M50.6,29.5 L56.3,37.2 M52.1,-17.6 Q62.8,-15.4 73.3,-18.9 M55.6,-26.4 L65.2,-26.2 M23.0,-54.8 Q31.8,-61.3 36.3,-71.4 M18.9,-63.3 L25.5,-70.3" fill="none" stroke="#3a1c1c" stroke-width="1.7" stroke-linecap="round" opacity=".75"/>
<circle cx="-4.2" cy="-3.6" r="78.6" fill="none" stroke="#8a4a46" stroke-width="2.4" opacity=".5"/>
<circle cx="-4.5" cy="-6.2" r="58.6" fill="#8a4a44" opacity=".5"/>
<circle cx="-4.5" cy="-6.2" r="57.6" fill="url(#gLumen)"/>
<g filter="url(#fSoft)">
<ellipse cx="26.4" cy="17" rx="10" ry="16.4" transform="rotate(-16 26.4 17)" fill="#4e1214" opacity=".5"/>
<ellipse cx="27.4" cy="17.4" rx="7.6" ry="14.4" transform="rotate(-16 27.4 17.4)" fill="#561216"/>
<ellipse cx="23" cy="15.6" rx="5.2" ry="12.6" transform="rotate(-16 23 15.6)" fill="#a01c1e"/>
</g>
<path d="M17,6 l2.4,2 M17.6,13 l3,1 M19,21 l2.6,0 M22.6,3 l1,2.4 M22,28 l2,-1.6 M24,11 l1.5,1 M20,17 l2,1" stroke="#bc2a2c" stroke-width="1.4" stroke-linecap="round"/>
</g>
<g transform="translate(1545,706.3) scale(0.9805,1.0195)">
<circle r="128" fill="#7a3028"/>
<circle r="127.2" fill="#b25a4a"/>
<circle r="125.4" fill="#c47a62"/>
<circle r="123.6" fill="url(#gBeige)"/>
<circle r="121" fill="none" stroke="#c9a27c" stroke-width="1" opacity=".7"/>
<path d="M-50.5,101.0 l-3.7,-0.8 M-111.3,-25.5 l0.4,-1.7 M111.4,26.8 l0.0,1.7 M-104.1,53.4 l-1.2,-1.6 M-81.9,-84.5 l2.4,-2.6 M111.0,-16.7 l1.2,4.3 M69.5,88.7 l-2.3,1.2 M48.7,104.7 l-3.3,1.8 M-107.4,-33.2 l0.2,-1.7 M-48.5,-103.8 l2.4,-1.0 M-108.9,33.0 l-0.7,-4.2 M4.3,115.4 l-3.3,-0.6 M-14.6,-112.8 l4.6,-1.7 M-101.5,57.3 l-1.0,-1.8 M112.5,28.3 l-1.2,4.0 M80.8,-80.3 l2.6,2.9 M-100.6,-55.2 l3.1,-3.2 M-114.5,18.8 l-0.1,-1.7 M-71.0,-94.2 l3.1,-3.1 M-87.4,76.3 l-1.1,-1.2 M55.5,98.1 l-1.6,0.6 M78.0,82.4 l-2.5,1.5 M100.3,55.6 l-2.3,2.5 M49.4,-106.3 l2.3,0.9 M-74.1,91.0 l-4.3,-2.2 M50.7,101.4 l-2.1,1.1 M-96.2,-60.3 l0.7,-1.3 M-78.6,84.5 l-3.1,-3.7 M-115.2,-11.2 l-0.7,-3.8 M94.2,-68.9 l2.0,4.1 M-89.2,71.6 l-1.0,-1.5 M103.9,42.9 l-0.4,2.2 M-60.2,94.8 l-1.4,-0.5 M91.8,68.0 l-1.2,1.0 M-85.1,-74.2 l1.4,-1.9 M-74.1,85.0 l-2.4,-3.8 M-112.3,24.4 l-0.8,-1.6 M-62.4,94.9 l-4.1,-1.6 M116.5,17.0 l0.2,3.3 M-108.1,-30.1 l1.8,-2.8 M75.9,-87.9 l1.9,1.4 M58.1,101.1 l-3.2,1.2 M-54.4,99.4 l-3.1,-3.1 M70.2,-93.4 l3.1,3.1 M16.8,113.9 l-2.5,1.1 M111.9,19.9 l-0.7,2.3" stroke="#3a2a20" stroke-width="1.3" stroke-linecap="round" fill="none" opacity=".85"/>
</g><g transform="translate(1546.5,706.5) scale(0.9727)">
<circle r="110" fill="#3b221d"/>
<circle r="108.8" fill="#e2917a"/>
<ellipse cx="-36.1" cy="-89.5" rx="14.5" ry="24" transform="rotate(-112 -36.1 -89.5)" fill="#f3a891" stroke="#4a2a22" stroke-width=".9" stroke-opacity=".85"/>
<ellipse cx="-36.9" cy="-91.3" rx="7.2" ry="14.4" transform="rotate(-112 -36.9 -91.3)" fill="#f8bca6" opacity=".25"/>
<ellipse cx="10.1" cy="-96.5" rx="15" ry="26" transform="rotate(-84 10.1 -96.5)" fill="#f2a48c" stroke="#4a2a22" stroke-width=".9" stroke-opacity=".85"/>
<ellipse cx="10.3" cy="-98.5" rx="7.5" ry="15.6" transform="rotate(-84 10.3 -98.5)" fill="#f8bca6" opacity=".25"/>
<ellipse cx="51.4" cy="-82.3" rx="15" ry="22" transform="rotate(-58 51.4 -82.3)" fill="#ee957c" stroke="#4a2a22" stroke-width=".9" stroke-opacity=".85"/>
<ellipse cx="52.5" cy="-84.0" rx="7.5" ry="13.2" transform="rotate(-58 52.5 -84.0)" fill="#f8bca6" opacity=".25"/>
<ellipse cx="76.4" cy="-59.7" rx="13" ry="18" transform="rotate(-38 76.4 -59.7)" fill="#ec8e76" stroke="#4a2a22" stroke-width=".9" stroke-opacity=".85"/>
<ellipse cx="78.0" cy="-61.0" rx="6.5" ry="10.8" transform="rotate(-38 78.0 -61.0)" fill="#f8bca6" opacity=".25"/>
<ellipse cx="90.2" cy="-32.8" rx="14.5" ry="22" transform="rotate(-20 90.2 -32.8)" fill="#ef977f" stroke="#4a2a22" stroke-width=".9" stroke-opacity=".85"/>
<ellipse cx="92.1" cy="-33.5" rx="7.2" ry="13.2" transform="rotate(-20 92.1 -33.5)" fill="#f8bca6" opacity=".25"/>
<ellipse cx="95.8" cy="6.7" rx="15" ry="31" transform="rotate(4 95.8 6.7)" fill="#ee947b" stroke="#4a2a22" stroke-width=".9" stroke-opacity=".85"/>
<ellipse cx="97.8" cy="6.8" rx="7.5" ry="18.6" transform="rotate(4 97.8 6.8)" fill="#f8bca6" opacity=".25"/>
<ellipse cx="81.4" cy="48.9" rx="15" ry="22" transform="rotate(31 81.4 48.9)" fill="#ea8a72" stroke="#4a2a22" stroke-width=".9" stroke-opacity=".85"/>
<ellipse cx="83.1" cy="50.0" rx="7.5" ry="13.2" transform="rotate(31 83.1 50.0)" fill="#f8bca6" opacity=".25"/>
<ellipse cx="61.7" cy="73.5" rx="12.5" ry="16" transform="rotate(50 61.7 73.5)" fill="#ec9078" stroke="#4a2a22" stroke-width=".9" stroke-opacity=".85"/>
<ellipse cx="63.0" cy="75.1" rx="6.2" ry="9.6" transform="rotate(50 63.0 75.1)" fill="#f8bca6" opacity=".25"/>
<ellipse cx="39.0" cy="87.7" rx="13.5" ry="20" transform="rotate(66 39.0 87.7)" fill="#ee9880" stroke="#4a2a22" stroke-width=".9" stroke-opacity=".85"/>
<ellipse cx="39.9" cy="89.5" rx="6.8" ry="12.0" transform="rotate(66 39.9 89.5)" fill="#f8bca6" opacity=".25"/>
<ellipse cx="6.7" cy="95.8" rx="14" ry="21" transform="rotate(86 6.7 95.8)" fill="#f09c84" stroke="#4a2a22" stroke-width=".9" stroke-opacity=".85"/>
<ellipse cx="6.8" cy="97.8" rx="7.0" ry="12.6" transform="rotate(86 6.8 97.8)" fill="#f8bca6" opacity=".25"/>
<ellipse cx="-26.5" cy="92.3" rx="14" ry="20" transform="rotate(106 -26.5 92.3)" fill="#f2a48c" stroke="#4a2a22" stroke-width=".9" stroke-opacity=".85"/>
<ellipse cx="-27.0" cy="94.2" rx="7.0" ry="12.0" transform="rotate(106 -27.0 94.2)" fill="#f8bca6" opacity=".25"/>
<ellipse cx="-56.1" cy="77.3" rx="13.5" ry="21" transform="rotate(126 -56.1 77.3)" fill="#f3a891" stroke="#4a2a22" stroke-width=".9" stroke-opacity=".85"/>
<ellipse cx="-57.3" cy="78.9" rx="6.8" ry="12.6" transform="rotate(126 -57.3 78.9)" fill="#f8bca6" opacity=".25"/>
<ellipse cx="-79.2" cy="53.4" rx="13.5" ry="21" transform="rotate(146 -79.2 53.4)" fill="#f3a58e" stroke="#4a2a22" stroke-width=".9" stroke-opacity=".85"/>
<ellipse cx="-80.8" cy="54.5" rx="6.8" ry="12.6" transform="rotate(146 -80.8 54.5)" fill="#f8bca6" opacity=".25"/>
<ellipse cx="-93.1" cy="23.2" rx="14" ry="22" transform="rotate(166 -93.1 23.2)" fill="#f3a891" stroke="#4a2a22" stroke-width=".9" stroke-opacity=".85"/>
<ellipse cx="-95.1" cy="23.7" rx="7.0" ry="13.2" transform="rotate(166 -95.1 23.7)" fill="#f8bca6" opacity=".25"/>
<ellipse cx="-95.6" cy="-13.4" rx="14" ry="23" transform="rotate(188 -95.6 -13.4)" fill="#f4ab94" stroke="#4a2a22" stroke-width=".9" stroke-opacity=".85"/>
<ellipse cx="-97.5" cy="-13.7" rx="7.0" ry="13.8" transform="rotate(188 -97.5 -13.7)" fill="#f8bca6" opacity=".25"/>
<ellipse cx="-82.7" cy="-49.7" rx="14.5" ry="23" transform="rotate(211 -82.7 -49.7)" fill="#f3a891" stroke="#4a2a22" stroke-width=".9" stroke-opacity=".85"/>
<ellipse cx="-84.4" cy="-50.7" rx="7.2" ry="13.8" transform="rotate(211 -84.4 -50.7)" fill="#f8bca6" opacity=".25"/>
<ellipse cx="-59.4" cy="-76.0" rx="14" ry="21" transform="rotate(232 -59.4 -76.0)" fill="#f3a68f" stroke="#4a2a22" stroke-width=".9" stroke-opacity=".85"/>
<ellipse cx="-60.6" cy="-77.6" rx="7.0" ry="12.6" transform="rotate(232 -60.6 -77.6)" fill="#f8bca6" opacity=".25"/>
<circle r="84.5" fill="#3b221d"/>
<circle r="83.2" fill="#f0d8b6"/>
<circle cx="-4.2" cy="-3.6" r="80.8" fill="#3b221d"/>
<circle cx="-4.2" cy="-3.6" r="79.8" fill="#ad665f"/>
<path d="M-39.9,-49.3 Q-42.2,-60.0 -49.7,-68.2 M-49.4,-49.0 L-53.1,-57.8 M-61.6,-11.7 Q-70.7,-17.8 -81.8,-18.5 M-68.2,-4.9 L-77.0,-8.7 M-58.0,18.1 Q-68.9,17.4 -78.8,22.3 M-60.2,27.3 L-69.8,28.4 M-34.9,45.6 Q-44.2,51.4 -49.4,61.2 M-31.4,54.3 L-38.5,60.9 M9.8,52.7 Q7.6,63.4 11.1,73.9 M18.6,56.2 L18.4,65.8 M41.5,32.1 Q46.3,41.9 55.5,48.1 M50.6,29.5 L56.3,37.2 M52.1,-17.6 Q62.8,-15.4 73.3,-18.9 M55.6,-26.4 L65.2,-26.2 M23.0,-54.8 Q31.8,-61.3 36.3,-71.4 M18.9,-63.3 L25.5,-70.3" fill="none" stroke="#3a1c1c" stroke-width="1.7" stroke-linecap="round" opacity=".75"/>
<circle cx="-4.2" cy="-3.6" r="78.6" fill="none" stroke="#8a4a46" stroke-width="2.4" opacity=".5"/>
<circle cx="-4.5" cy="-6.2" r="58.6" fill="#8a4a44" opacity=".5"/>
<circle cx="-4.5" cy="-6.2" r="57.6" fill="url(#gLumen)"/>
</g>
<g transform="translate(1152.3,270.6) scale(0.6977,0.7266)">
<circle r="128" fill="#7a3028"/>
<circle r="127.2" fill="#b25a4a"/>
<circle r="125.4" fill="#c47a62"/>
<circle r="123.6" fill="url(#gBeige)"/>
<circle r="121" fill="none" stroke="#c9a27c" stroke-width="1" opacity=".7"/>
<path d="M-50.5,101.0 l-3.7,-0.8 M-111.3,-25.5 l0.4,-1.7 M111.4,26.8 l0.0,1.7 M-104.1,53.4 l-1.2,-1.6 M-81.9,-84.5 l2.4,-2.6 M111.0,-16.7 l1.2,4.3 M69.5,88.7 l-2.3,1.2 M48.7,104.7 l-3.3,1.8 M-107.4,-33.2 l0.2,-1.7 M-48.5,-103.8 l2.4,-1.0 M-108.9,33.0 l-0.7,-4.2 M4.3,115.4 l-3.3,-0.6 M-14.6,-112.8 l4.6,-1.7 M-101.5,57.3 l-1.0,-1.8 M112.5,28.3 l-1.2,4.0 M80.8,-80.3 l2.6,2.9 M-100.6,-55.2 l3.1,-3.2 M-114.5,18.8 l-0.1,-1.7 M-71.0,-94.2 l3.1,-3.1 M-87.4,76.3 l-1.1,-1.2 M55.5,98.1 l-1.6,0.6 M78.0,82.4 l-2.5,1.5 M100.3,55.6 l-2.3,2.5 M49.4,-106.3 l2.3,0.9 M-74.1,91.0 l-4.3,-2.2 M50.7,101.4 l-2.1,1.1 M-96.2,-60.3 l0.7,-1.3 M-78.6,84.5 l-3.1,-3.7 M-115.2,-11.2 l-0.7,-3.8 M94.2,-68.9 l2.0,4.1 M-89.2,71.6 l-1.0,-1.5 M103.9,42.9 l-0.4,2.2 M-60.2,94.8 l-1.4,-0.5 M91.8,68.0 l-1.2,1.0 M-85.1,-74.2 l1.4,-1.9 M-74.1,85.0 l-2.4,-3.8 M-112.3,24.4 l-0.8,-1.6 M-62.4,94.9 l-4.1,-1.6 M116.5,17.0 l0.2,3.3 M-108.1,-30.1 l1.8,-2.8 M75.9,-87.9 l1.9,1.4 M58.1,101.1 l-3.2,1.2 M-54.4,99.4 l-3.1,-3.1 M70.2,-93.4 l3.1,3.1 M16.8,113.9 l-2.5,1.1 M111.9,19.9 l-0.7,2.3" stroke="#3a2a20" stroke-width="1.3" stroke-linecap="round" fill="none" opacity=".85"/>
</g><g transform="translate(1153.4,270.8) scale(0.6921)">
<circle r="110" fill="#3b221d"/>
<circle r="108.8" fill="#e2917a"/>
<ellipse cx="-36.1" cy="-89.5" rx="14.5" ry="24" transform="rotate(-112 -36.1 -89.5)" fill="#f3a891" stroke="#4a2a22" stroke-width=".9" stroke-opacity=".85"/>
<ellipse cx="-36.9" cy="-91.3" rx="7.2" ry="14.4" transform="rotate(-112 -36.9 -91.3)" fill="#f8bca6" opacity=".25"/>
<ellipse cx="10.1" cy="-96.5" rx="15" ry="26" transform="rotate(-84 10.1 -96.5)" fill="#f2a48c" stroke="#4a2a22" stroke-width=".9" stroke-opacity=".85"/>
<ellipse cx="10.3" cy="-98.5" rx="7.5" ry="15.6" transform="rotate(-84 10.3 -98.5)" fill="#f8bca6" opacity=".25"/>
<ellipse cx="51.4" cy="-82.3" rx="15" ry="22" transform="rotate(-58 51.4 -82.3)" fill="#ee957c" stroke="#4a2a22" stroke-width=".9" stroke-opacity=".85"/>
<ellipse cx="52.5" cy="-84.0" rx="7.5" ry="13.2" transform="rotate(-58 52.5 -84.0)" fill="#f8bca6" opacity=".25"/>
<ellipse cx="76.4" cy="-59.7" rx="13" ry="18" transform="rotate(-38 76.4 -59.7)" fill="#ec8e76" stroke="#4a2a22" stroke-width=".9" stroke-opacity=".85"/>
<ellipse cx="78.0" cy="-61.0" rx="6.5" ry="10.8" transform="rotate(-38 78.0 -61.0)" fill="#f8bca6" opacity=".25"/>
<ellipse cx="90.2" cy="-32.8" rx="14.5" ry="22" transform="rotate(-20 90.2 -32.8)" fill="#ef977f" stroke="#4a2a22" stroke-width=".9" stroke-opacity=".85"/>
<ellipse cx="92.1" cy="-33.5" rx="7.2" ry="13.2" transform="rotate(-20 92.1 -33.5)" fill="#f8bca6" opacity=".25"/>
<ellipse cx="95.8" cy="6.7" rx="15" ry="31" transform="rotate(4 95.8 6.7)" fill="#ee947b" stroke="#4a2a22" stroke-width=".9" stroke-opacity=".85"/>
<ellipse cx="97.8" cy="6.8" rx="7.5" ry="18.6" transform="rotate(4 97.8 6.8)" fill="#f8bca6" opacity=".25"/>
<ellipse cx="81.4" cy="48.9" rx="15" ry="22" transform="rotate(31 81.4 48.9)" fill="#ea8a72" stroke="#4a2a22" stroke-width=".9" stroke-opacity=".85"/>
<ellipse cx="83.1" cy="50.0" rx="7.5" ry="13.2" transform="rotate(31 83.1 50.0)" fill="#f8bca6" opacity=".25"/>
<ellipse cx="61.7" cy="73.5" rx="12.5" ry="16" transform="rotate(50 61.7 73.5)" fill="#ec9078" stroke="#4a2a22" stroke-width=".9" stroke-opacity=".85"/>
<ellipse cx="63.0" cy="75.1" rx="6.2" ry="9.6" transform="rotate(50 63.0 75.1)" fill="#f8bca6" opacity=".25"/>
<ellipse cx="39.0" cy="87.7" rx="13.5" ry="20" transform="rotate(66 39.0 87.7)" fill="#ee9880" stroke="#4a2a22" stroke-width=".9" stroke-opacity=".85"/>
<ellipse cx="39.9" cy="89.5" rx="6.8" ry="12.0" transform="rotate(66 39.9 89.5)" fill="#f8bca6" opacity=".25"/>
<ellipse cx="6.7" cy="95.8" rx="14" ry="21" transform="rotate(86 6.7 95.8)" fill="#f09c84" stroke="#4a2a22" stroke-width=".9" stroke-opacity=".85"/>
<ellipse cx="6.8" cy="97.8" rx="7.0" ry="12.6" transform="rotate(86 6.8 97.8)" fill="#f8bca6" opacity=".25"/>
<ellipse cx="-26.5" cy="92.3" rx="14" ry="20" transform="rotate(106 -26.5 92.3)" fill="#f2a48c" stroke="#4a2a22" stroke-width=".9" stroke-opacity=".85"/>
<ellipse cx="-27.0" cy="94.2" rx="7.0" ry="12.0" transform="rotate(106 -27.0 94.2)" fill="#f8bca6" opacity=".25"/>
<ellipse cx="-56.1" cy="77.3" rx="13.5" ry="21" transform="rotate(126 -56.1 77.3)" fill="#f3a891" stroke="#4a2a22" stroke-width=".9" stroke-opacity=".85"/>
<ellipse cx="-57.3" cy="78.9" rx="6.8" ry="12.6" transform="rotate(126 -57.3 78.9)" fill="#f8bca6" opacity=".25"/>
<ellipse cx="-79.2" cy="53.4" rx="13.5" ry="21" transform="rotate(146 -79.2 53.4)" fill="#f3a58e" stroke="#4a2a22" stroke-width=".9" stroke-opacity=".85"/>
<ellipse cx="-80.8" cy="54.5" rx="6.8" ry="12.6" transform="rotate(146 -80.8 54.5)" fill="#f8bca6" opacity=".25"/>
<ellipse cx="-93.1" cy="23.2" rx="14" ry="22" transform="rotate(166 -93.1 23.2)" fill="#f3a891" stroke="#4a2a22" stroke-width=".9" stroke-opacity=".85"/>
<ellipse cx="-95.1" cy="23.7" rx="7.0" ry="13.2" transform="rotate(166 -95.1 23.7)" fill="#f8bca6" opacity=".25"/>
<ellipse cx="-95.6" cy="-13.4" rx="14" ry="23" transform="rotate(188 -95.6 -13.4)" fill="#f4ab94" stroke="#4a2a22" stroke-width=".9" stroke-opacity=".85"/>
<ellipse cx="-97.5" cy="-13.7" rx="7.0" ry="13.8" transform="rotate(188 -97.5 -13.7)" fill="#f8bca6" opacity=".25"/>
<ellipse cx="-82.7" cy="-49.7" rx="14.5" ry="23" transform="rotate(211 -82.7 -49.7)" fill="#f3a891" stroke="#4a2a22" stroke-width=".9" stroke-opacity=".85"/>
<ellipse cx="-84.4" cy="-50.7" rx="7.2" ry="13.8" transform="rotate(211 -84.4 -50.7)" fill="#f8bca6" opacity=".25"/>
<ellipse cx="-59.4" cy="-76.0" rx="14" ry="21" transform="rotate(232 -59.4 -76.0)" fill="#f3a68f" stroke="#4a2a22" stroke-width=".9" stroke-opacity=".85"/>
<ellipse cx="-60.6" cy="-77.6" rx="7.0" ry="12.6" transform="rotate(232 -60.6 -77.6)" fill="#f8bca6" opacity=".25"/>
<circle r="84.5" fill="#3b221d"/>
<circle r="83.2" fill="#f0d8b6"/>
<circle cx="-4.2" cy="-3.6" r="80.8" fill="#3b221d"/>
<circle cx="-4.2" cy="-3.6" r="79.8" fill="#ad665f"/>
<path d="M-39.9,-49.3 Q-42.2,-60.0 -49.7,-68.2 M-49.4,-49.0 L-53.1,-57.8 M-61.6,-11.7 Q-70.7,-17.8 -81.8,-18.5 M-68.2,-4.9 L-77.0,-8.7 M-58.0,18.1 Q-68.9,17.4 -78.8,22.3 M-60.2,27.3 L-69.8,28.4 M-34.9,45.6 Q-44.2,51.4 -49.4,61.2 M-31.4,54.3 L-38.5,60.9 M9.8,52.7 Q7.6,63.4 11.1,73.9 M18.6,56.2 L18.4,65.8 M41.5,32.1 Q46.3,41.9 55.5,48.1 M50.6,29.5 L56.3,37.2 M52.1,-17.6 Q62.8,-15.4 73.3,-18.9 M55.6,-26.4 L65.2,-26.2 M23.0,-54.8 Q31.8,-61.3 36.3,-71.4 M18.9,-63.3 L25.5,-70.3" fill="none" stroke="#3a1c1c" stroke-width="1.7" stroke-linecap="round" opacity=".75"/>
<circle cx="-4.2" cy="-3.6" r="78.6" fill="none" stroke="#8a4a46" stroke-width="2.4" opacity=".5"/>
<circle cx="-4.5" cy="-6.2" r="58.6" fill="#8a4a44" opacity=".5"/>
<circle cx="-4.5" cy="-6.2" r="57.6" fill="url(#gLumen)"/>
<path d="M14,-10 C18,-18 28,-12 30,-18 C34,-26 46,-22 44,-10 C43,-2 50,0 50,10 C50,20 46,24 42,24 C38,32 28,36 14,38 C4,39 0,30 6,22 C12,14 18,8 14,0 C12,-4 12,-7 14,-10 Z" fill="#e0322a"/>
<path d="M20,-6 C24,-10 34,-10 36,-4 C32,-6 24,-4 20,-6 Z M32,12 C36,10 44,12 44,16 C40,14 36,15 32,12 Z" fill="#f2695c" opacity=".8"/>
<path d="M8,30 C16,34 30,32 42,24 C38,32 28,36 14,38 C8,38 6,34 8,30 Z" fill="#b81f1c" opacity=".7"/>
</g>
<path fill="#050505" d="M545.5,267.7 L621.7,267.7 L621.7,258 L640.8,276.8 L621.7,295.6 L621.7,286 L545.5,286 Z"/>
<path fill="#050505" d="M736,267.7 L813.4,267.7 L813.4,258 L831.7,276.8 L813.4,295.6 L813.4,286 L736,286 Z"/>
<path fill="#050505" d="M931,267.7 L1008.5,267.7 L1008.5,258 L1027.3,276.8 L1008.5,295.6 L1008.5,286 L931,286 Z"/>
<g transform="translate(451.7,322.3) rotate(38.8)">
<path d="M-13.4,-124 L-13.4,0 A13.4,13.4 0 0 0 13.4,0 L13.4,-124 Z" fill="#8fd0cf" stroke="#5a8f94" stroke-width=".8"/>
<path d="M-12.8,-98 C-4,-95 6,-102 12.8,-103 L12.8,0 A12.8,12.8 0 0 1 -12.8,0 Z" fill="url(#gBlood)"/>
<rect x="-10.8" y="-94" width="2.4" height="94" rx="1.2" fill="#f3b3a8" opacity=".75"/>
<ellipse cx="-8.4" cy="3" rx="3" ry="4" fill="#ffd8d0" opacity=".8"/>
<rect x="8.4" y="-98" width="4.4" height="102" fill="#5a0a0a" opacity=".45"/>
<rect x="-10.9" y="-122" width="3" height="22" fill="#d8f4f2" opacity=".8"/>
<path d="M2,-124 L12.4,-124 L12.4,-106 C8,-108 4,-114 2,-124 Z" fill="#2e4a52" opacity=".55"/>
<rect x="-16.6" y="-141" width="33.2" height="21" rx="3.5" fill="#8e8e8a"/>
<rect x="-16.6" y="-141" width="33.2" height="6" rx="3" fill="#a6a6a2"/>
<rect x="9.4" y="-140" width="7" height="19" rx="3" fill="#70706c" opacity=".6"/>
<rect x="-14.4" y="-138" width="1" height="15" fill="#6c6c68" opacity=".55"/><rect x="-10.8" y="-138" width="1" height="15" fill="#6c6c68" opacity=".55"/><rect x="-7.2" y="-138" width="1" height="15" fill="#6c6c68" opacity=".55"/><rect x="-3.6" y="-138" width="1" height="15" fill="#6c6c68" opacity=".55"/><rect x="0.0" y="-138" width="1" height="15" fill="#6c6c68" opacity=".55"/><rect x="3.6" y="-138" width="1" height="15" fill="#6c6c68" opacity=".55"/><rect x="7.2" y="-138" width="1" height="15" fill="#6c6c68" opacity=".55"/><rect x="10.8" y="-138" width="1" height="15" fill="#6c6c68" opacity=".55"/><rect x="14.4" y="-138" width="1" height="15" fill="#6c6c68" opacity=".55"/>
<rect x="-16.6" y="-123.5" width="33.2" height="3.5" rx="1.5" fill="#6a6a66" opacity=".7"/>
</g>
<g>
<rect x="681" y="172" width="22" height="32" fill="#e6ecf2"/>
<rect x="686.5" y="172" width="2.6" height="32" fill="#9fb3c8"/><rect x="694" y="172" width="2.6" height="32" fill="#9fb3c8"/>
<rect x="681" y="172" width="22" height="7" fill="#8b98a8" opacity=".5"/>
<rect x="664" y="163.8" width="54.5" height="13.6" rx="6.8" fill="#e03324"/>
<rect x="668" y="165.5" width="46" height="4" rx="2" fill="#f26a58" opacity=".7"/>
<path d="M637,203.5 C633,203.5 631,206 631.5,209 C632,212.5 635,214 640,214 L662,215 C666,220 672,222.5 680,222.5 L702,222.5 C710,222.5 716,220 720,215 L740,214 C745,214 748,212.5 748,209 C748,206 746,203.5 742,203.5 L716,203 C712,200.5 706,199.5 700,199.5 L682,199.5 C676,199.5 670,200.5 666,203 Z" fill="#f7f6f1" stroke="#d9d6cc" stroke-width=".8"/>
<rect x="640" y="207.3" width="20" height="1.6" rx=".8" fill="#b8c2c8"/><rect x="722" y="207.3" width="18" height="1.6" rx=".8" fill="#b8c2c8"/>
<rect x="661.5" y="221.5" width="59" height="9.5" rx="3.5" fill="#f4f3ee" stroke="#cfd3d4" stroke-width=".8"/>
<path d="M664.5,230.5 L717.5,230.5 L717.5,330 C717.5,338 708,343 699,347 L683,347 C674,343 664.5,338 664.5,330 Z" fill="url(#gBarrel)" stroke="#7f9dc0" stroke-width="1"/>
<rect x="666" y="231.5" width="50" height="36" fill="#9cc0e6" opacity=".75"/>
<rect x="666.5" y="231.5" width="5" height="100" fill="#ffffff" opacity=".55"/>
<rect x="710" y="231.5" width="6" height="100" fill="#5f8fc6" opacity=".45"/>
<rect x="665" y="266.8" width="52" height="3.6" fill="#16264a"/><rect x="665" y="272.6" width="52" height="3.2" fill="#16264a"/><rect x="665" y="270.4" width="52" height="2.2" fill="#5d7fb6"/>
<rect x="675.8" y="235.5" width="30" height="30" rx="3.5" fill="#e23a2c"/>
<text x="690.8" y="254.6" font-family="Liberation Sans, sans-serif" font-weight="bold" font-size="11.5" text-anchor="middle" fill="#fff">ACP</text>
<rect x="677" y="283" width="11" height="1.2" fill="#8aa0b8"/><rect x="677" y="290.5" width="11" height="1.2" fill="#8aa0b8"/><rect x="677" y="298" width="11" height="1.2" fill="#8aa0b8"/><rect x="677" y="305.5" width="11" height="1.2" fill="#8aa0b8"/><rect x="677" y="313" width="11" height="1.2" fill="#8aa0b8"/><rect x="677" y="320.5" width="11" height="1.2" fill="#8aa0b8"/>
<rect x="676.4" y="281" width="1.2" height="42" fill="#8aa0b8"/><rect x="689.6" y="279" width="1.2" height="56" fill="#6f8fb8"/>
<text x="702.5" y="288" font-family="Liberation Sans, sans-serif" font-size="5.2" font-weight="bold" text-anchor="middle" fill="#6a84a8">20</text>
<text x="702.5" y="300" font-family="Liberation Sans, sans-serif" font-size="5.2" font-weight="bold" text-anchor="middle" fill="#6a84a8">30</text>
<text x="702.5" y="312" font-family="Liberation Sans, sans-serif" font-size="5.2" font-weight="bold" text-anchor="middle" fill="#6a84a8">20</text>
<text x="702.5" y="325.5" font-family="Liberation Sans, sans-serif" font-size="5.2" font-weight="bold" text-anchor="middle" fill="#6a84a8">10</text>
<rect x="684.6" y="344" width="13" height="6" fill="#cfe0f0" stroke="#8fa9c8" stroke-width=".6"/>
<path d="M684,348.5 L698,348.5 L696.6,366 C696.4,369.5 694,371 691,371 C688,371 685.6,369.5 685.4,366 Z" fill="#e03324"/>
<rect x="686.6" y="350" width="2.4" height="17" rx="1.2" fill="#f47a68" opacity=".8"/>
</g>
<g transform="translate(845.2,331.6) rotate(25.6)">
<path d="M-15.8,-106 L-15.8,0 A15.8,15.8 0 0 0 15.8,0 L15.8,-106 Z" fill="#eef6f2" stroke="#141414" stroke-width="2.6"/>
<path d="M-12.4,-106 L-12.4,0 A12.4,12.4 0 0 0 12.4,0 L12.4,-106 Z" fill="#a9dcd2"/>
<path d="M-12.4,-72 C-4,-69 4,-70 12.4,-74 L12.4,0 A12.4,12.4 0 0 1 -12.4,0 Z" fill="url(#gYellow)" stroke="#141414" stroke-width="1.1"/>
<path d="M-12.4,-72 C-4,-69 4,-70 12.4,-74 L12.4,-67 C4,-64 -4,-64 -12.4,-66 Z" fill="#f7d23a"/>
<rect x="-11.0" y="-64" width="2.8" height="62" rx="1.4" fill="#fff3b0" opacity=".9"/>
<path d="M8.8,-60 L12.0,-60 L12.0,0 C11.8,6 4,11 0,12 C6,8 8.8,4 8.8,-4 Z" fill="#c77f00" opacity=".55"/>
<circle cx="-3.5" cy="-10" r="4.4" fill="#fff6d8" stroke="#5a3c00" stroke-width="1"/>
<circle cx="1.5" cy="-38" r="4.6" fill="#fff6d8" stroke="#5a3c00" stroke-width="1"/>
<circle cx="4" cy="-54" r="2.8" fill="#fff6d8" stroke="#5a3c00" stroke-width="1"/>
<circle cx="-2.5" cy="-60" r="2.6" fill="#fff6d8" stroke="#5a3c00" stroke-width="1"/>
<circle cx="-1.5" cy="-24" r="1.7" fill="#fff6d8" stroke="#5a3c00" stroke-width="1"/>
<circle cx="1" cy="-48" r="1.5" fill="#fff6d8" stroke="#5a3c00" stroke-width="1"/>
<path d="M-5,-101 C0,-105 8,-105 11.8,-101 C8,-97 0,-97 -5,-101 Z" fill="#181818"/>
<rect x="-23.2" y="-123.5" width="46.4" height="19.5" rx="4.5" fill="#9dc4b6" stroke="#141414" stroke-width="2.6"/>
<rect x="-21.6" y="-122" width="15" height="16.5" rx="3" fill="#e8f0ea"/>
<rect x="10" y="-122" width="11.6" height="16.5" rx="3" fill="#7ea69a"/>
</g>
<g transform="translate(1186.8,278.3) rotate(41.85)">
<rect x="-0.6" y="-33" width="1.3" height="33" fill="#3a3a3a"/>
<path d="M-1.8,-31 L1.8,-31 L6,-46 L-6,-46 Z" fill="#d9a72e" stroke="#5a3e08" stroke-width=".8"/>
<rect x="-8" y="-50.5" width="16" height="5" fill="#d9a72e" stroke="#5a3e08" stroke-width=".8"/>
<rect x="-9.6" y="-107" width="19.2" height="57" fill="#f4f2ee" stroke="#3c3c3c" stroke-width="1"/>
<rect x="-8.6" y="-106" width="4" height="55" fill="#d2d2d2" opacity=".7"/>
<circle cx="0" cy="-70" r="4.2" fill="#d8402e"/>
<circle cx="3" cy="-64" r="2.4" fill="#e05a40"/>
<circle cx="-3" cy="-60" r="2" fill="#d8402e"/>
<circle cx="2" cy="-78" r="2.2" fill="#e8705a"/>
<circle cx="-4" cy="-74" r="1.6" fill="#d8402e"/>
<circle cx="4" cy="-86" r="1.6" fill="#e8705a"/>
<circle cx="-2" cy="-90" r="1.4" fill="#e05a40"/>
<circle cx="1" cy="-56" r="1.5" fill="#e8705a"/>
<circle cx="5" cy="-94" r="1.2" fill="#e8705a"/>
<circle cx="-5" cy="-66" r="1.2" fill="#e05a40"/>
<rect x="-10.6" y="-119" width="21.2" height="12.5" fill="#d9a72e" stroke="#5a3e08" stroke-width=".8"/>
<rect x="-19" y="-124.6" width="38" height="6" rx="2" fill="#e3b43c" stroke="#5a3e08" stroke-width=".8"/>
<rect x="-4.6" y="-163" width="9.2" height="38.6" fill="#2a8ccc" stroke="#12466e" stroke-width=".8"/>
<rect x="-3" y="-162" width="2.4" height="36" fill="#69b8ea" opacity=".8"/>
<ellipse cx="0" cy="-165.5" rx="11.8" ry="4.8" fill="#2a8ccc" stroke="#12466e" stroke-width=".9"/>
<ellipse cx="0" cy="-167" rx="8" ry="2.4" fill="#7cc4ee"/>
</g>
<rect x="530.3" y="643.3" width="26.3" height="133.3" fill="#2a76be"/>
<rect x="574.7" y="740.2" width="26.7" height="36.4" fill="#2a76be"/>
<rect x="619.5" y="752.4" width="27.1" height="24.2" fill="#2a76be"/>
<path d="M514,573.7 L514,786.8 L685.6,786.8" fill="none" stroke="#222" stroke-width="1.5"/>
<path d="M510,776.6 L514,776.6" stroke="#222" stroke-width="1.3"/>
<text x="508.4" y="782.2" font-family="Liberation Sans, sans-serif" font-size="16.2" text-anchor="end" fill="#2a2a2a">0</text>
<path d="M510,728.1 L514,728.1" stroke="#222" stroke-width="1.3"/>
<text x="508.4" y="733.8" font-family="Liberation Sans, sans-serif" font-size="16.2" text-anchor="end" fill="#2a2a2a">25</text>
<path d="M510,679.7 L514,679.7" stroke="#222" stroke-width="1.3"/>
<text x="508.4" y="685.3" font-family="Liberation Sans, sans-serif" font-size="16.2" text-anchor="end" fill="#2a2a2a">50</text>
<path d="M510,631.2 L514,631.2" stroke="#222" stroke-width="1.3"/>
<text x="508.4" y="636.9" font-family="Liberation Sans, sans-serif" font-size="16.2" text-anchor="end" fill="#2a2a2a">75</text>
<path d="M510,582.8 L514,582.8" stroke="#222" stroke-width="1.3"/>
<text x="508.4" y="588.4" font-family="Liberation Sans, sans-serif" font-size="16.2" text-anchor="end" fill="#2a2a2a">100</text>
<text x="543.5" y="638.5" font-family="Liberation Sans, sans-serif" font-size="13.2" text-anchor="middle" fill="#2a2a2a">68.8</text>
<text x="588" y="735.4" font-family="Liberation Sans, sans-serif" font-size="13.2" text-anchor="middle" fill="#2a2a2a">18.8</text>
<text x="633" y="747.6" font-family="Liberation Sans, sans-serif" font-size="13.2" text-anchor="middle" fill="#2a2a2a">12.5</text>
<text transform="translate(470.3,681.5) rotate(-90)" font-family="Liberation Sans, sans-serif" font-size="17.3" text-anchor="middle" fill="#1a1a1a">Proportion of patients (%)</text>
<text transform="translate(551,801) rotate(-45)" font-family="Liberation Sans, sans-serif" font-size="16.4" text-anchor="end" fill="#1a1a1a">Cured</text>
<text transform="translate(596,801) rotate(-45)" font-family="Liberation Sans, sans-serif" font-size="16.4" text-anchor="end" fill="#1a1a1a">Improved</text>
<text transform="translate(641,801) rotate(-45)" font-family="Liberation Sans, sans-serif" font-size="16.4" text-anchor="end" fill="#1a1a1a">Ineffective</text>
<rect x="843.8" y="658.5" width="1.4" height="153.3" fill="#9a9a9a"/>
<rect x="868.4" y="658.5" width="1.4" height="153.3" fill="#9a9a9a"/>
<rect x="893.1" y="658.5" width="1.4" height="153.3" fill="#9a9a9a"/>
<rect x="917.7" y="658.5" width="1.4" height="153.3" fill="#9a9a9a"/>
<rect x="942.3" y="658.5" width="1.4" height="153.3" fill="#9a9a9a"/>
<rect x="967.0" y="658.5" width="1.4" height="153.3" fill="#9a9a9a"/>
<rect x="991.6" y="658.5" width="1.4" height="153.3" fill="#9a9a9a"/>
<rect x="1016.3" y="658.5" width="1.4" height="153.3" fill="#9a9a9a"/>
<rect x="1040.9" y="658.5" width="1.4" height="153.3" fill="#9a9a9a"/>
<rect x="834.5" y="808.2" width="226" height="1.3" fill="#8a8a8a"/>
<rect x="844.5" y="672.8" width="37.0" height="26.8" fill="#08509b"/><rect x="881.5" y="672.8" width="123.2" height="26.8" fill="#2e7ebb"/><rect x="1004.6" y="672.8" width="37.0" height="26.8" fill="#6baed6"/>
<rect x="844.5" y="719.6" width="24.6" height="26.7" fill="#2e7ebb"/><rect x="869.1" y="719.6" width="12.3" height="26.7" fill="#6baed6"/><rect x="881.5" y="719.6" width="73.9" height="26.7" fill="#bdd7e7"/><rect x="955.4" y="719.6" width="83.7" height="26.7" fill="#eef3fb"/>
<rect x="844.5" y="766.4" width="24.6" height="27.3" fill="#2e7ebb"/><rect x="869.1" y="766.4" width="12.3" height="27.3" fill="#6baed6"/><rect x="881.5" y="766.4" width="12.3" height="27.3" fill="#bdd7e7"/><rect x="893.8" y="766.4" width="145.3" height="27.3" fill="#eef3fb"/>
<rect x="861.9" y="608.4" width="173.7" height="17.6" fill="#fff" stroke="#9a9a9a" stroke-width="1"/>
<text x="865.5" y="620.6" font-family="Liberation Sans, sans-serif" font-size="10.3" fill="#222">mMRS</text>
<rect x="902" y="612.2" width="10" height="10" fill="#eef3fb"/>
<text x="919" y="620.8" font-family="Liberation Sans, sans-serif" font-size="9.8" text-anchor="middle" fill="#222">0</text>
<rect x="928.7" y="612.2" width="10" height="10" fill="#bdd7e7"/>
<text x="946" y="620.8" font-family="Liberation Sans, sans-serif" font-size="9.8" text-anchor="middle" fill="#222">1</text>
<rect x="955.4" y="612.2" width="10" height="10" fill="#6baed6"/>
<text x="973" y="620.8" font-family="Liberation Sans, sans-serif" font-size="9.8" text-anchor="middle" fill="#222">2</text>
<rect x="982.8" y="612.2" width="10" height="10" fill="#2e7ebb"/>
<text x="1000.5" y="620.8" font-family="Liberation Sans, sans-serif" font-size="9.8" text-anchor="middle" fill="#222">3</text>
<rect x="1009.5" y="612.2" width="10" height="10" fill="#08509b"/>
<text x="1028" y="620.8" font-family="Liberation Sans, sans-serif" font-size="9.8" text-anchor="middle" fill="#222">4</text>
<text x="909" y="643.4" font-family="Liberation Sans, sans-serif" font-size="10" text-anchor="middle" fill="#222">Without dyspnea</text>
<path d="M958.7,639.8 L990,639.8" stroke="#111" stroke-width="1"/><path d="M988.5,636.4 L996,639.8 L988.5,643.2 Z" fill="#111"/>
<text x="1024.4" y="643.2" font-family="Liberation Sans, sans-serif" font-size="10" text-anchor="middle" fill="#222">Dyspnea</text>
<text x="803.4" y="684.2" font-family="Liberation Sans, sans-serif" font-size="10.1" text-anchor="middle" fill="#222">Before</text>
<text x="803.4" y="697.2" font-family="Liberation Sans, sans-serif" font-size="10.1" text-anchor="middle" fill="#222">PRP treatment</text>
<text x="831" y="737" font-family="Liberation Sans, sans-serif" font-size="10.1" text-anchor="end" fill="#222">2 weeks</text>
<text x="831" y="783.5" font-family="Liberation Sans, sans-serif" font-size="10.1" text-anchor="end" fill="#222">4-6 weeks</text>
<text x="1051.6" y="736.5" font-family="Liberation Sans, sans-serif" font-size="9" font-weight="bold" text-anchor="middle" fill="#222">***</text>
<text x="1051.6" y="783" font-family="Liberation Sans, sans-serif" font-size="9" font-weight="bold" text-anchor="middle" fill="#222">***</text>
<text x="844.5" y="819.6" font-family="Liberation Sans, sans-serif" font-size="9.3" text-anchor="middle" fill="#222">0</text>
<text x="893.8" y="819.6" font-family="Liberation Sans, sans-serif" font-size="9.3" text-anchor="middle" fill="#222">25</text>
<text x="943.0" y="819.6" font-family="Liberation Sans, sans-serif" font-size="9.3" text-anchor="middle" fill="#222">50</text>
<text x="992.3" y="819.6" font-family="Liberation Sans, sans-serif" font-size="9.3" text-anchor="middle" fill="#222">75</text>
<text x="1041.6" y="819.6" font-family="Liberation Sans, sans-serif" font-size="9.3" text-anchor="middle" fill="#222">100</text>
<text x="947" y="831" font-family="Liberation Sans, sans-serif" font-size="10.1" text-anchor="middle" fill="#222">Patients, %</text>
<rect x="1099.4" y="776.2" width="234.6" height=".6" fill="#ececec"/>
<rect x="1099.4" y="730.4" width="234.6" height=".6" fill="#ececec"/>
<rect x="1099.4" y="684.5" width="234.6" height=".6" fill="#ececec"/>
<rect x="1099.4" y="799.0" width="234.6" height="1" fill="#dcdcdc"/>
<rect x="1099.4" y="753.1" width="234.6" height="1" fill="#dcdcdc"/>
<rect x="1099.4" y="707.2" width="234.6" height="1" fill="#dcdcdc"/>
<rect x="1099.4" y="661.3" width="234.6" height="1" fill="#dcdcdc"/>
<rect x="1142.4" y="640.8" width="1" height="165.7" fill="#dcdcdc"/>
<rect x="1215.5" y="640.8" width="1" height="165.7" fill="#dcdcdc"/>
<rect x="1288.7" y="640.8" width="1" height="165.7" fill="#dcdcdc"/>
<rect x="1099.4" y="640.8" width="234.6" height="165.7" fill="none" stroke="#333" stroke-width="1"/>
<path d="M1142.9,675.6 L1142.9,654.5 M1138.5,675.6 L1147.3000000000002,675.6 M1138.5,654.5 L1147.3000000000002,654.5" stroke="#b8b8b8" stroke-width="0.9" fill="none" opacity="1"/>
<path d="M1142.9,670.5 L1142.9,660.9 M1138.5,670.5 L1147.3000000000002,670.5 M1138.5,660.9 L1147.3000000000002,660.9" stroke="#3a9b48" stroke-width="0.9" fill="none" opacity="1"/>
<path d="M1216,665.5 L1216,647.1 M1211.6,665.5 L1220.4,665.5 M1211.6,647.1 L1220.4,647.1" stroke="#3a9b48" stroke-width="0.9" fill="none" opacity="1"/>
<path d="M1289.2,672.8 L1289.2,658.6 M1284.8,672.8 L1293.6000000000001,672.8 M1284.8,658.6 L1293.6000000000001,658.6" stroke="#3a9b48" stroke-width="0.9" fill="none" opacity="1"/>
<path d="M1142.9,692.1 L1142.9,660.9 M1138.1000000000001,692.1 L1147.7,692.1 M1138.1000000000001,660.9 L1147.7,660.9" stroke="#d3202c" stroke-width="0.9" fill="none" opacity="1"/>
<path d="M1142.9,709.5 L1142.9,680.2 M1138.1000000000001,709.5 L1147.7,709.5 M1138.1000000000001,680.2 L1147.7,680.2" stroke="#2f6fb2" stroke-width="0.9" fill="none" opacity="1"/>
<path d="M1142.9,695.8 L1142.9,693.0 M1138.1000000000001,695.8 L1147.7,695.8 M1138.1000000000001,693.0 L1147.7,693.0" stroke="#2f6fb2" stroke-width="0.9" fill="none" opacity="1"/>
<path d="M1216,792.2 L1216,780.2 M1212,792.2 L1220,792.2 M1212,780.2 L1220,780.2" stroke="#d3202c" stroke-width="0.9" fill="none" opacity="1"/>
<path d="M1216,790.3 L1216,781.1 M1212,790.3 L1220,790.3 M1212,781.1 L1220,781.1" stroke="#2f6fb2" stroke-width="0.9" fill="none" opacity="1"/>
<path d="M1289.2,798.6 L1289.2,784.8 M1285.2,798.6 L1293.2,798.6 M1285.2,784.8 L1293.2,784.8" stroke="#d3202c" stroke-width="0.9" fill="none" opacity="1"/>
<path d="M1289.2,802.3 L1289.2,794.0 M1285.2,802.3 L1293.2,802.3 M1285.2,794.0 L1293.2,794.0" stroke="#2f6fb2" stroke-width="0.9" fill="none" opacity="1"/>
<polyline points="1142.9,666.4 1216.0,657.2 1289.2,666.4" fill="none" stroke="#3a9b48" stroke-width="1.25" stroke-dasharray="4 1.5"/>
<polyline points="1142.9,684.8 1216.0,785.7 1289.2,799.5" fill="none" stroke="#2f6fb2" stroke-width="1.25"/>
<polyline points="1142.9,675.6 1216.0,785.7 1289.2,792.2" fill="none" stroke="#d3202c" stroke-width="1.25" stroke-dasharray="5 1.5"/>
<path d="M1142.9,664.2 L1145.1000000000001,668.0 L1140.7,668.0 Z" fill="#3a9b48"/>
<path d="M1216,655.0 L1218.2,658.8 L1213.8,658.8 Z" fill="#3a9b48"/>
<path d="M1289.2,664.2 L1291.4,668.0 L1287.0,668.0 Z" fill="#3a9b48"/>
<path d="M1142.9,682.8 L1144.7,684.8 L1142.9,686.8 L1141.1000000000001,684.8 Z" fill="#1f3f8a"/>
<path d="M1216,783.7 L1217.8,785.7 L1216,787.7 L1214.2,785.7 Z" fill="#1f3f8a"/>
<path d="M1289.2,797.5 L1291.0,799.5 L1289.2,801.5 L1287.4,799.5 Z" fill="#1f3f8a"/>
<circle cx="1142.9" cy="675.6" r="2" fill="#d3202c"/>
<circle cx="1216" cy="785.7" r="2" fill="#d3202c"/>
<circle cx="1289.2" cy="792.2" r="2" fill="#d3202c"/>
<text x="1216" y="760" font-family="Liberation Sans, sans-serif" font-size="6.4" font-weight="bold" text-anchor="middle" fill="#333">###</text>
<text x="1216" y="773.6" font-family="Liberation Sans, sans-serif" font-size="6.4" font-weight="bold" text-anchor="middle" fill="#333">***</text>
<text x="1289.2" y="769.4" font-family="Liberation Sans, sans-serif" font-size="6.4" font-weight="bold" text-anchor="middle" fill="#333">###</text>
<text x="1289.2" y="782.6" font-family="Liberation Sans, sans-serif" font-size="6.4" font-weight="bold" text-anchor="middle" fill="#333">***</text>
<text x="1093" y="802.3" font-family="Liberation Sans, sans-serif" font-size="8.4" text-anchor="end" fill="#333">0</text>
<text x="1093" y="756.4" font-family="Liberation Sans, sans-serif" font-size="8.4" text-anchor="end" fill="#333">10</text>
<text x="1093" y="710.5" font-family="Liberation Sans, sans-serif" font-size="8.4" text-anchor="end" fill="#333">20</text>
<text x="1093" y="664.6" font-family="Liberation Sans, sans-serif" font-size="8.4" text-anchor="end" fill="#333">30</text>
<text transform="translate(1079.4,725.3) rotate(-90)" font-family="Liberation Sans, sans-serif" font-size="8.2" text-anchor="middle" fill="#333">CAT</text>
<text x="1142.9" y="817.4" font-family="Liberation Sans, sans-serif" font-size="8.5" text-anchor="middle" fill="#333">Before PRP treatment</text>
<text x="1216" y="817.4" font-family="Liberation Sans, sans-serif" font-size="8.5" text-anchor="middle" fill="#333">2 weeks</text>
<text x="1289.2" y="817.4" font-family="Liberation Sans, sans-serif" font-size="8.5" text-anchor="middle" fill="#333">4-6 weeks</text>
<text x="1216" y="828.2" font-family="Liberation Sans, sans-serif" font-size="8.5" text-anchor="middle" fill="#333">Time</text>
<path d="M1120.5,620 L1128.5,620" stroke="#d3202c" stroke-width="1"/><circle cx="1124.5" cy="620" r="2" fill="#d3202c"/>
<text x="1134" y="622.8" font-family="Liberation Sans, sans-serif" font-size="8.7" fill="#333">All patients</text>
<path d="M1182,620 L1190,620" stroke="#2f6fb2" stroke-width="1"/><path d="M1186,618 L1187.8,620 L1186,622 L1184.2,620 Z" fill="#1f3f8a"/>
<text x="1196" y="622.8" font-family="Liberation Sans, sans-serif" font-size="8.6" fill="#333">Cured/Improved</text>
<path d="M1263.8,620 L1271.8,620" stroke="#3a9b48" stroke-width="1"/><path d="M1267.8,617.6 L1270,621.4 L1265.6,621.4 Z" fill="#3a9b48"/>
<text x="1277.8" y="622.8" font-family="Liberation Sans, sans-serif" font-size="8.5" fill="#333">Ineffective</text>
</svg>

</body></html>
